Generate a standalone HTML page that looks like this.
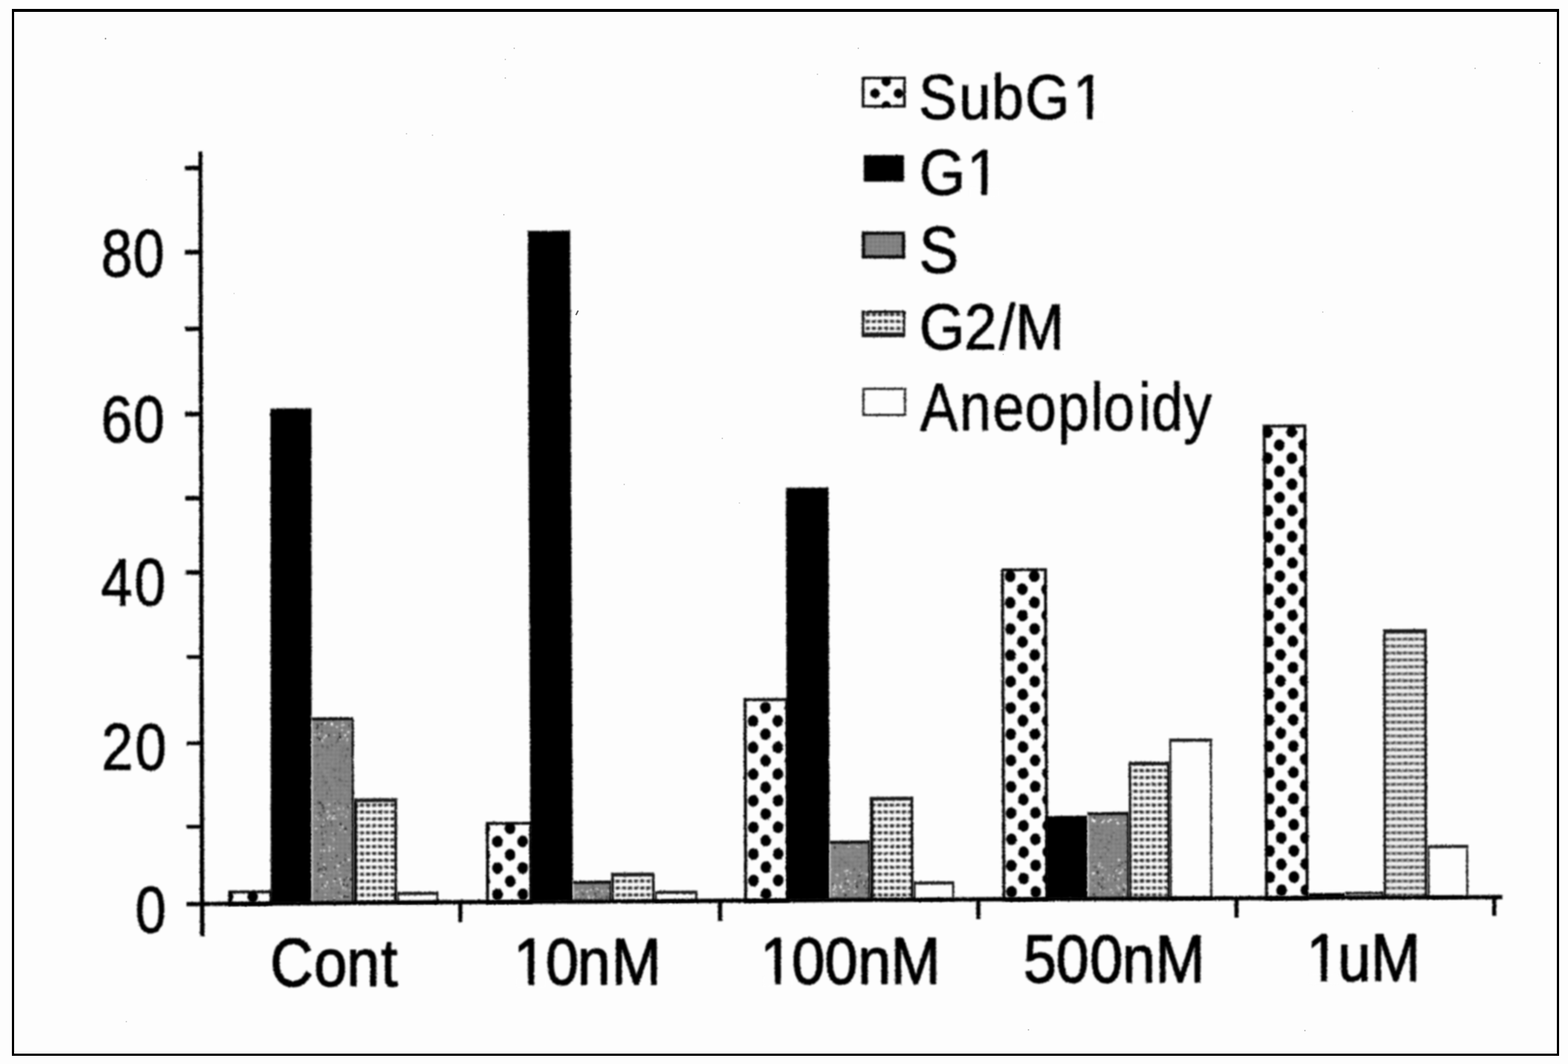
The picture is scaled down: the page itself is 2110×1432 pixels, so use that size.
<!DOCTYPE html>
<html lang="en"><head><meta charset="utf-8"><title>Cell cycle distribution</title>
<style>
html,body{margin:0;padding:0;background:#fdfdfd;}
body{width:2110px;height:1432px;overflow:hidden;font-family:"Liberation Sans",sans-serif;}
svg{display:block;}
</style></head><body>
<svg width="2110" height="1432" viewBox="0 0 2110 1432">
<defs>
<filter id="soft" x="-15%" y="-15%" width="130%" height="130%" color-interpolation-filters="sRGB">
  <feTurbulence type="fractalNoise" baseFrequency="0.4" numOctaves="2" seed="5" result="n"/>
  <feDisplacementMap in="SourceGraphic" in2="n" scale="2.8" xChannelSelector="R" yChannelSelector="G" result="d"/>
  <feGaussianBlur in="d" stdDeviation="0.85"/>
</filter>
<pattern id="pG2" patternUnits="userSpaceOnUse" width="8.2" height="9.3">
  <rect x="0" y="0" width="8.2" height="9.3" fill="#fbfbfb"/>
  <rect x="0" y="3" width="8.2" height="3.4" fill="#d0d0d0"/>
  <rect x="0.8" y="2.6" width="5.0" height="4.3" fill="#2a2a2a"/>
</pattern>
<pattern id="pG2d" patternUnits="userSpaceOnUse" width="8" height="9.3">
  <rect x="0" y="0" width="8" height="9.3" fill="#f0f0f0"/>
  <rect x="0" y="2.6" width="8" height="4.2" fill="#9a9a9a"/>
  <rect x="1" y="3" width="4.6" height="3.4" fill="#444"/>
</pattern>
<pattern id="pS" patternUnits="userSpaceOnUse" width="6" height="6">
  <rect x="0" y="0" width="6" height="6" fill="#828282"/>
  <rect x="1" y="1" width="2" height="1.5" fill="#6a6a6a"/>
  <rect x="4" y="4" width="1.5" height="1.5" fill="#9a9a9a"/>
</pattern>
</defs>
<rect x="0" y="0" width="2110" height="1432" fill="#fdfdfd"/>

<path d="M16 12H2098V1421H16Z M19 16V1418H2095V16Z" fill="#000" fill-rule="evenodd"/>
<g filter="url(#soft)"><g transform="matrix(1 -0.0053 0.002 1 -2.4323 1.7792)">
<clipPath id="c1"><rect x="307.40" y="1198.50" width="59.10" height="16.94"/></clipPath>
<rect x="309.40" y="1200.30" width="55.10" height="16.94" fill="#fdfdfd" stroke="#0a0a0a" stroke-width="4"/>
<g clip-path="url(#c1)" fill="#000"><ellipse cx="307.0" cy="1207.0" rx="7.2" ry="7.9"/><ellipse cx="340.0" cy="1207.0" rx="7.2" ry="7.9"/></g>
</g></g>
<g filter="url(#soft)"><g transform="matrix(1 -0.0053 0.0006 1 -0.7294 2.0773)">
<rect x="364.40" y="549.60" width="55.10" height="665.44" fill="#000"/>
</g></g>
<g filter="url(#soft)"><g transform="matrix(1 -0.0053 0.0006 1 -0.7292 2.3731)">
<rect x="419.50" y="965.50" width="56.50" height="249.14" fill="url(#pS)"/>
<rect x="419.50" y="965.50" width="56.50" height="4" fill="#0a0a0a"/>
<rect x="419.80" y="969.50" width="1.6" height="245.14" fill="#c8c8c8"/>
<rect x="473.40" y="965.50" width="2.8" height="249.14" fill="#0a0a0a"/>
<rect x="444.4" y="1104.9" width="2.2" height="3.4" fill="#505050"/><rect x="464.0" y="1016.1" width="3.0" height="3.4" fill="#5a5a5a"/><rect x="461.0" y="993.1" width="1.6" height="1.6" fill="#f4f4f4"/><rect x="448.6" y="1184.3" width="3.0" height="2.4" fill="#e0e0e0"/><rect x="469.3" y="1127.5" width="3.0" height="1.6" fill="#9a9a9a"/><rect x="452.7" y="1170.2" width="1.6" height="1.6" fill="#e0e0e0"/><rect x="431.7" y="1028.6" width="2.2" height="2.4" fill="#8e8e8e"/><rect x="443.9" y="1172.8" width="1.6" height="3.4" fill="#9a9a9a"/><rect x="436.8" y="971.6" width="2.2" height="3.4" fill="#e8e8e8"/><rect x="436.0" y="1210.1" width="3.0" height="2.4" fill="#e0e0e0"/><rect x="437.8" y="1025.7" width="1.6" height="1.6" fill="#8e8e8e"/><rect x="449.8" y="996.4" width="2.2" height="2.4" fill="#8e8e8e"/><rect x="425.7" y="974.6" width="1.6" height="1.6" fill="#222"/><rect x="432.7" y="1189.1" width="2.2" height="3.4" fill="#505050"/><rect x="441.8" y="988.0" width="1.6" height="3.4" fill="#222"/><rect x="435.6" y="991.4" width="1.6" height="2.4" fill="#f4f4f4"/><rect x="459.3" y="998.8" width="3.0" height="1.6" fill="#767676"/><rect x="423.0" y="1082.1" width="1.6" height="3.4" fill="#505050"/><rect x="449.6" y="1077.9" width="3.0" height="1.6" fill="#c8c8c8"/><rect x="442.8" y="1062.7" width="2.2" height="1.6" fill="#5a5a5a"/><rect x="422.5" y="1178.1" width="2.2" height="1.6" fill="#9a9a9a"/><rect x="432.7" y="1065.2" width="1.6" height="1.6" fill="#8e8e8e"/><rect x="432.8" y="1032.5" width="2.2" height="2.4" fill="#8e8e8e"/><rect x="426.1" y="992.1" width="3.0" height="1.6" fill="#222"/><rect x="423.3" y="1059.0" width="1.6" height="3.4" fill="#5a5a5a"/><rect x="446.0" y="1108.5" width="1.6" height="3.4" fill="#505050"/><rect x="430.0" y="1188.6" width="1.6" height="3.4" fill="#9a9a9a"/><rect x="431.7" y="1148.1" width="1.6" height="3.4" fill="#9a9a9a"/><rect x="468.6" y="1182.3" width="1.6" height="2.4" fill="#9a9a9a"/><rect x="424.8" y="996.7" width="1.6" height="3.4" fill="#8e8e8e"/><rect x="456.7" y="1032.2" width="2.2" height="3.4" fill="#5a5a5a"/><rect x="431.0" y="1143.5" width="1.6" height="1.6" fill="#e0e0e0"/><rect x="445.7" y="1127.4" width="3.0" height="1.6" fill="#9a9a9a"/><rect x="436.1" y="1190.8" width="3.0" height="1.6" fill="#c8c8c8"/><rect x="425.9" y="1069.3" width="1.6" height="1.6" fill="#767676"/><rect x="431.0" y="1059.1" width="1.6" height="2.4" fill="#767676"/><rect x="429.2" y="1078.6" width="3.0" height="3.4" fill="#303030"/><rect x="456.0" y="1110.8" width="3.0" height="1.6" fill="#c8c8c8"/><rect x="467.3" y="1084.5" width="3.0" height="2.4" fill="#303030"/><rect x="469.2" y="975.6" width="1.6" height="2.4" fill="#222"/><rect x="425.8" y="1045.2" width="1.6" height="1.6" fill="#767676"/><rect x="444.5" y="1058.8" width="3.0" height="3.4" fill="#8e8e8e"/><rect x="456.6" y="1161.0" width="2.2" height="1.6" fill="#303030"/><rect x="455.7" y="1186.8" width="1.6" height="2.4" fill="#505050"/><rect x="450.3" y="1120.6" width="2.2" height="3.4" fill="#505050"/><rect x="423.1" y="987.8" width="3.0" height="1.6" fill="#e8e8e8"/><rect x="470.7" y="1181.8" width="2.2" height="3.4" fill="#303030"/><rect x="456.2" y="1080.4" width="3.0" height="1.6" fill="#505050"/><rect x="447.7" y="1094.1" width="3.0" height="1.6" fill="#303030"/><rect x="445.8" y="1025.8" width="2.2" height="3.4" fill="#8e8e8e"/><rect x="454.5" y="1087.3" width="2.2" height="2.4" fill="#e0e0e0"/><rect x="429.4" y="1117.4" width="1.6" height="2.4" fill="#9a9a9a"/><rect x="454.5" y="1076.6" width="2.2" height="2.4" fill="#767676"/><rect x="454.8" y="1018.2" width="1.6" height="1.6" fill="#5a5a5a"/><rect x="441.1" y="1110.5" width="1.6" height="1.6" fill="#303030"/><rect x="429.0" y="1054.7" width="3.0" height="1.6" fill="#8e8e8e"/><rect x="468.6" y="1037.0" width="1.6" height="2.4" fill="#767676"/><rect x="445.4" y="1192.8" width="2.2" height="3.4" fill="#505050"/><rect x="447.7" y="1131.9" width="2.2" height="2.4" fill="#9a9a9a"/><rect x="426.1" y="978.1" width="1.6" height="3.4" fill="#222"/><rect x="456.9" y="1107.5" width="3.0" height="3.4" fill="#303030"/><rect x="423.4" y="1003.1" width="1.6" height="1.6" fill="#5a5a5a"/><rect x="459.8" y="1034.5" width="1.6" height="3.4" fill="#767676"/><rect x="428.1" y="996.7" width="1.6" height="3.4" fill="#8e8e8e"/><rect x="432.1" y="1168.3" width="1.6" height="3.4" fill="#303030"/><rect x="423.0" y="1083.9" width="1.6" height="1.6" fill="#e0e0e0"/><rect x="435.7" y="1053.5" width="2.2" height="3.4" fill="#767676"/><rect x="466.5" y="991.4" width="2.2" height="1.6" fill="#222"/><rect x="444.3" y="1017.8" width="2.2" height="3.4" fill="#8e8e8e"/><rect x="450.1" y="1181.7" width="2.2" height="2.4" fill="#303030"/><rect x="454.1" y="1019.7" width="1.6" height="1.6" fill="#8e8e8e"/><rect x="466.1" y="1206.0" width="3.0" height="2.4" fill="#303030"/><rect x="435.2" y="1143.0" width="2.2" height="3.4" fill="#e0e0e0"/><rect x="426.5" y="1076.4" width="2.2" height="2.4" fill="#5a5a5a"/><rect x="467.1" y="1022.9" width="2.2" height="1.6" fill="#8e8e8e"/><rect x="430.9" y="1050.9" width="2.2" height="1.6" fill="#767676"/><rect x="471.0" y="1186.8" width="3.0" height="3.4" fill="#9a9a9a"/><rect x="443.8" y="1181.8" width="3.0" height="1.6" fill="#9a9a9a"/><rect x="459.3" y="1076.0" width="3.0" height="3.4" fill="#8e8e8e"/><rect x="453.5" y="1096.0" width="2.2" height="2.4" fill="#9a9a9a"/><rect x="455.1" y="1199.8" width="1.6" height="2.4" fill="#9a9a9a"/><rect x="463.8" y="1203.1" width="2.2" height="3.4" fill="#9a9a9a"/><rect x="446.6" y="1069.2" width="3.0" height="1.6" fill="#8e8e8e"/><rect x="451.9" y="977.2" width="3.0" height="2.4" fill="#e8e8e8"/><rect x="448.9" y="1208.1" width="2.2" height="1.6" fill="#e0e0e0"/><rect x="456.0" y="986.3" width="2.2" height="2.4" fill="#222"/><rect x="467.2" y="1162.7" width="2.2" height="1.6" fill="#505050"/><rect x="445.4" y="1001.0" width="2.2" height="3.4" fill="#5a5a5a"/><rect x="437.9" y="1016.5" width="2.2" height="1.6" fill="#8e8e8e"/><rect x="456.6" y="1205.2" width="1.6" height="1.6" fill="#e0e0e0"/><rect x="433.5" y="1135.5" width="3.0" height="2.4" fill="#303030"/><rect x="434.4" y="1090.3" width="3.0" height="3.4" fill="#505050"/><rect x="428.5" y="1093.1" width="3.0" height="1.6" fill="#303030"/><rect x="456.5" y="1181.5" width="2.2" height="3.4" fill="#e0e0e0"/><rect x="442.5" y="1097.6" width="3.0" height="1.6" fill="#c8c8c8"/><rect x="464.4" y="1098.7" width="3.0" height="1.6" fill="#c8c8c8"/><rect x="463.8" y="1117.4" width="1.6" height="3.4" fill="#c8c8c8"/><rect x="453.0" y="1054.0" width="2.2" height="3.4" fill="#767676"/><rect x="437.8" y="1192.1" width="1.6" height="1.6" fill="#c8c8c8"/><rect x="429.0" y="1028.0" width="2.2" height="2.4" fill="#8e8e8e"/><rect x="427.2" y="1170.3" width="3.0" height="3.4" fill="#505050"/><rect x="428.6" y="1067.2" width="1.6" height="1.6" fill="#8e8e8e"/><rect x="450.1" y="1056.4" width="1.6" height="3.4" fill="#8e8e8e"/><rect x="447.0" y="1152.6" width="3.0" height="1.6" fill="#9a9a9a"/><rect x="461.4" y="1086.3" width="1.6" height="3.4" fill="#e0e0e0"/><rect x="452.2" y="1187.8" width="1.6" height="1.6" fill="#505050"/><rect x="431.5" y="1019.5" width="2.2" height="3.4" fill="#767676"/><rect x="427.1" y="985.4" width="2.2" height="1.6" fill="#222"/><rect x="459.6" y="1049.0" width="2.2" height="3.4" fill="#5a5a5a"/><rect x="439.7" y="1020.9" width="1.6" height="3.4" fill="#8e8e8e"/><rect x="456.5" y="1173.2" width="2.2" height="2.4" fill="#c8c8c8"/><rect x="439.9" y="1059.4" width="3.0" height="1.6" fill="#767676"/><rect x="427.1" y="1160.8" width="1.6" height="3.4" fill="#303030"/><rect x="465.0" y="1188.7" width="3.0" height="3.4" fill="#505050"/><rect x="431.8" y="1110.9" width="2.2" height="2.4" fill="#303030"/><rect x="466.7" y="1149.3" width="2.2" height="1.6" fill="#c8c8c8"/><rect x="466.0" y="1181.8" width="2.2" height="1.6" fill="#303030"/><rect x="442.2" y="1144.0" width="2.2" height="2.4" fill="#e0e0e0"/><rect x="445.2" y="973.0" width="3.0" height="3.4" fill="#f4f4f4"/><rect x="424.9" y="1036.1" width="2.2" height="1.6" fill="#8e8e8e"/><rect x="454.5" y="1107.3" width="1.6" height="2.4" fill="#9a9a9a"/><rect x="447.5" y="1090.0" width="3.0" height="1.6" fill="#c8c8c8"/><rect x="459.4" y="1205.9" width="1.6" height="3.4" fill="#e0e0e0"/><rect x="427.7" y="1027.4" width="2.2" height="3.4" fill="#5a5a5a"/><rect x="424.9" y="1017.4" width="1.6" height="1.6" fill="#5a5a5a"/><rect x="435.0" y="1036.7" width="3.0" height="3.4" fill="#8e8e8e"/><rect x="447.1" y="1202.7" width="1.6" height="3.4" fill="#9a9a9a"/><rect x="444.1" y="1125.3" width="3.0" height="3.4" fill="#9a9a9a"/><rect x="459.3" y="981.3" width="2.2" height="2.4" fill="#e8e8e8"/><rect x="469.5" y="1176.0" width="3.0" height="3.4" fill="#9a9a9a"/><rect x="425.3" y="1197.5" width="2.2" height="3.4" fill="#505050"/><rect x="441.8" y="1045.5" width="2.2" height="3.4" fill="#8e8e8e"/><rect x="435.6" y="1193.7" width="1.6" height="1.6" fill="#303030"/><rect x="460.0" y="1111.2" width="2.2" height="3.4" fill="#c8c8c8"/><rect x="441.4" y="1186.0" width="1.6" height="3.4" fill="#505050"/><rect x="470.5" y="1197.3" width="1.6" height="2.4" fill="#e0e0e0"/><rect x="457.4" y="1030.8" width="1.6" height="3.4" fill="#767676"/><rect x="427.3" y="1165.1" width="1.6" height="1.6" fill="#505050"/><rect x="451.8" y="998.1" width="2.2" height="1.6" fill="#5a5a5a"/><rect x="432.4" y="983.0" width="1.6" height="1.6" fill="#222"/><rect x="440.1" y="1004.1" width="2.2" height="3.4" fill="#5a5a5a"/><rect x="435.2" y="1110.3" width="2.2" height="3.4" fill="#505050"/><rect x="448.2" y="1210.1" width="3.0" height="1.6" fill="#303030"/><rect x="434.1" y="997.8" width="3.0" height="3.4" fill="#8e8e8e"/><rect x="463.6" y="1036.5" width="3.0" height="2.4" fill="#767676"/><rect x="459.0" y="1016.1" width="3.0" height="3.4" fill="#767676"/><rect x="466.9" y="1181.5" width="3.0" height="1.6" fill="#e0e0e0"/><rect x="423.0" y="1032.8" width="3.0" height="1.6" fill="#8e8e8e"/><rect x="427.5" y="1100.6" width="1.6" height="3.4" fill="#e0e0e0"/><rect x="430.3" y="1026.9" width="2.2" height="2.4" fill="#8e8e8e"/><rect x="439.7" y="1051.7" width="3.0" height="1.6" fill="#5a5a5a"/><rect x="463.2" y="988.4" width="2.2" height="3.4" fill="#e8e8e8"/><rect x="463.1" y="1155.2" width="2.2" height="3.4" fill="#505050"/><rect x="435.0" y="1165.0" width="1.6" height="3.4" fill="#303030"/><rect x="463.1" y="1113.8" width="3.0" height="3.4" fill="#303030"/><rect x="462.6" y="1014.7" width="3.0" height="1.6" fill="#8e8e8e"/><rect x="444.9" y="1048.3" width="2.2" height="3.4" fill="#8e8e8e"/><rect x="450.0" y="1166.3" width="2.2" height="1.6" fill="#505050"/><rect x="426.2" y="1021.7" width="3.0" height="2.4" fill="#8e8e8e"/><rect x="446.5" y="1154.0" width="2.2" height="1.6" fill="#303030"/><rect x="433.1" y="1128.3" width="2.2" height="1.6" fill="#303030"/><rect x="438.1" y="1076.4" width="2.2" height="3.4" fill="#8e8e8e"/><rect x="461.4" y="1043.7" width="1.6" height="2.4" fill="#8e8e8e"/><rect x="469.4" y="1145.7" width="1.6" height="1.6" fill="#9a9a9a"/><rect x="440.0" y="1058.3" width="3.0" height="2.4" fill="#8e8e8e"/><rect x="450.9" y="1161.7" width="2.2" height="2.4" fill="#9a9a9a"/><rect x="448.7" y="1171.3" width="1.6" height="1.6" fill="#9a9a9a"/><rect x="426.9" y="1079.6" width="1.6" height="1.6" fill="#303030"/><rect x="447.5" y="1101.2" width="2.2" height="1.6" fill="#9a9a9a"/><rect x="454.1" y="1163.6" width="3.0" height="3.4" fill="#e0e0e0"/><rect x="437.3" y="1101.5" width="1.6" height="2.4" fill="#303030"/><rect x="458.2" y="1186.4" width="1.6" height="3.4" fill="#e0e0e0"/><rect x="454.2" y="993.9" width="2.2" height="1.6" fill="#222"/><rect x="457.0" y="1087.9" width="2.2" height="2.4" fill="#9a9a9a"/><rect x="441.6" y="1051.6" width="3.0" height="1.6" fill="#8e8e8e"/><rect x="446.4" y="1099.5" width="3.0" height="3.4" fill="#e0e0e0"/><rect x="466.9" y="1069.1" width="1.6" height="2.4" fill="#8e8e8e"/><rect x="462.9" y="1183.9" width="3.0" height="1.6" fill="#9a9a9a"/><rect x="447.9" y="1141.0" width="2.2" height="2.4" fill="#e0e0e0"/><rect x="466.9" y="1029.5" width="3.0" height="2.4" fill="#767676"/><rect x="455.7" y="1047.6" width="2.2" height="3.4" fill="#5a5a5a"/><rect x="436.7" y="1203.4" width="2.2" height="2.4" fill="#e0e0e0"/><rect x="457.9" y="1043.4" width="1.6" height="1.6" fill="#767676"/><rect x="459.0" y="974.6" width="1.6" height="2.4" fill="#f4f4f4"/><rect x="427.8" y="1014.8" width="3.0" height="1.6" fill="#767676"/><rect x="451.6" y="1083.8" width="1.6" height="2.4" fill="#9a9a9a"/><rect x="431.5" y="1038.0" width="2.2" height="3.4" fill="#767676"/><rect x="449.1" y="1166.7" width="2.2" height="2.4" fill="#505050"/><rect x="465.5" y="1190.0" width="3.0" height="3.4" fill="#303030"/><rect x="459.9" y="992.7" width="2.2" height="1.6" fill="#e8e8e8"/><rect x="433.0" y="1002.7" width="3.0" height="3.4" fill="#5a5a5a"/><rect x="460.0" y="1159.7" width="3.0" height="1.6" fill="#e0e0e0"/><rect x="465.8" y="1180.4" width="2.2" height="1.6" fill="#303030"/><rect x="457.1" y="1116.0" width="2.2" height="1.6" fill="#c8c8c8"/><rect x="459.9" y="1005.3" width="3.0" height="3.4" fill="#767676"/><rect x="470.7" y="1034.5" width="1.6" height="3.4" fill="#8e8e8e"/><rect x="459.9" y="970.8" width="1.6" height="1.6" fill="#e8e8e8"/><rect x="439.6" y="1118.2" width="1.6" height="2.4" fill="#9a9a9a"/><rect x="456.1" y="990.4" width="3.0" height="3.4" fill="#222"/><rect x="464.1" y="1043.4" width="2.2" height="1.6" fill="#767676"/><rect x="467.0" y="992.3" width="1.6" height="1.6" fill="#f4f4f4"/><rect x="448.9" y="1096.7" width="2.2" height="2.4" fill="#c8c8c8"/><rect x="437.6" y="988.8" width="2.2" height="3.4" fill="#f4f4f4"/><rect x="457.2" y="1056.9" width="1.6" height="3.4" fill="#767676"/><rect x="441.6" y="1081.4" width="3.0" height="2.4" fill="#e0e0e0"/><rect x="423.1" y="1061.1" width="1.6" height="2.4" fill="#5a5a5a"/><rect x="449.9" y="1080.5" width="3.0" height="1.6" fill="#e0e0e0"/><rect x="466.2" y="1007.0" width="3.0" height="3.4" fill="#5a5a5a"/><rect x="437.0" y="1051.5" width="3.0" height="3.4" fill="#5a5a5a"/><rect x="426.7" y="1015.8" width="3.0" height="1.6" fill="#5a5a5a"/><rect x="438.5" y="1197.4" width="2.2" height="3.4" fill="#9a9a9a"/><rect x="453.6" y="1077.8" width="1.6" height="1.6" fill="#505050"/><rect x="429.3" y="993.2" width="3.0" height="3.4" fill="#222"/><rect x="431.2" y="1016.9" width="2.2" height="3.4" fill="#8e8e8e"/><rect x="456.6" y="994.6" width="1.6" height="1.6" fill="#e8e8e8"/><rect x="443.5" y="1155.7" width="2.2" height="3.4" fill="#303030"/><rect x="429.2" y="1019.8" width="3.0" height="2.4" fill="#767676"/><rect x="445.9" y="1191.7" width="1.6" height="3.4" fill="#9a9a9a"/><rect x="441.9" y="1138.6" width="3.0" height="3.4" fill="#c8c8c8"/><rect x="448.2" y="1033.1" width="2.2" height="2.4" fill="#767676"/><rect x="454.1" y="996.0" width="1.6" height="3.4" fill="#5a5a5a"/><rect x="438.6" y="1041.0" width="3.0" height="3.4" fill="#8e8e8e"/><rect x="430.2" y="1154.6" width="3.0" height="1.6" fill="#303030"/><rect x="439.6" y="1090.7" width="3.0" height="3.4" fill="#c8c8c8"/><rect x="432.1" y="1194.7" width="3.0" height="1.6" fill="#c8c8c8"/><rect x="452.9" y="1018.0" width="1.6" height="1.6" fill="#8e8e8e"/><rect x="445.7" y="1070.8" width="2.2" height="1.6" fill="#8e8e8e"/><rect x="467.6" y="1057.2" width="1.6" height="2.4" fill="#5a5a5a"/><rect x="469.7" y="1003.1" width="3.0" height="2.4" fill="#8e8e8e"/><rect x="430.7" y="1149.6" width="3.0" height="1.6" fill="#303030"/><rect x="428.4" y="1168.5" width="3.0" height="2.4" fill="#303030"/><rect x="434.2" y="1108.2" width="1.6" height="3.4" fill="#c8c8c8"/><rect x="449.1" y="988.8" width="2.2" height="1.6" fill="#e8e8e8"/><rect x="460.5" y="1193.8" width="2.2" height="3.4" fill="#c8c8c8"/><rect x="463.6" y="1188.2" width="3.0" height="3.4" fill="#9a9a9a"/><rect x="461.5" y="974.4" width="2.2" height="2.4" fill="#e8e8e8"/><rect x="424.1" y="1097.3" width="3.0" height="2.4" fill="#e0e0e0"/><rect x="430.9" y="1095.3" width="1.6" height="3.4" fill="#303030"/><rect x="467.7" y="983.3" width="3.0" height="3.4" fill="#e8e8e8"/><rect x="460.7" y="1067.3" width="3.0" height="1.6" fill="#5a5a5a"/><rect x="445.3" y="1069.3" width="2.2" height="2.4" fill="#5a5a5a"/><rect x="465.6" y="1081.8" width="2.2" height="1.6" fill="#505050"/><rect x="449.9" y="1187.9" width="2.2" height="3.4" fill="#9a9a9a"/><rect x="447.8" y="1071.4" width="2.2" height="1.6" fill="#8e8e8e"/><rect x="436.9" y="1118.5" width="3.0" height="2.4" fill="#505050"/><rect x="451.5" y="1151.1" width="3.0" height="1.6" fill="#303030"/><rect x="434.4" y="1173.3" width="3.0" height="2.4" fill="#c8c8c8"/><rect x="469.7" y="1084.7" width="3.0" height="1.6" fill="#e0e0e0"/><rect x="448.9" y="1128.2" width="1.6" height="3.4" fill="#c8c8c8"/><rect x="469.4" y="1130.4" width="2.2" height="3.4" fill="#9a9a9a"/><rect x="461.6" y="1023.8" width="3.0" height="1.6" fill="#5a5a5a"/><rect x="466.3" y="994.2" width="1.6" height="3.4" fill="#e8e8e8"/><rect x="450.4" y="1079.3" width="1.6" height="3.4" fill="#303030"/><rect x="437.0" y="1048.5" width="2.2" height="2.4" fill="#8e8e8e"/><rect x="462.0" y="1065.9" width="3.0" height="3.4" fill="#8e8e8e"/><rect x="433.7" y="1044.0" width="2.2" height="2.4" fill="#5a5a5a"/><rect x="438.2" y="1004.9" width="1.6" height="1.6" fill="#5a5a5a"/><rect x="436.8" y="1192.1" width="1.6" height="2.4" fill="#e0e0e0"/><rect x="463.1" y="1055.5" width="1.6" height="1.6" fill="#5a5a5a"/><rect x="453.3" y="1138.1" width="1.6" height="3.4" fill="#9a9a9a"/><rect x="453.2" y="1016.5" width="3.0" height="1.6" fill="#8e8e8e"/><rect x="437.3" y="1166.9" width="2.2" height="3.4" fill="#303030"/><rect x="465.1" y="1050.9" width="2.2" height="1.6" fill="#5a5a5a"/><rect x="430.7" y="1177.4" width="3.0" height="3.4" fill="#e0e0e0"/><rect x="432.0" y="1014.0" width="3.0" height="3.4" fill="#767676"/><rect x="436.8" y="1036.1" width="3.0" height="3.4" fill="#8e8e8e"/><rect x="433.6" y="1042.8" width="3.0" height="1.6" fill="#767676"/><rect x="435.9" y="1124.2" width="2.2" height="1.6" fill="#e0e0e0"/><rect x="443.9" y="1097.4" width="1.6" height="1.6" fill="#9a9a9a"/><rect x="451.6" y="1038.8" width="2.2" height="3.4" fill="#8e8e8e"/><rect x="426.7" y="1039.0" width="1.6" height="1.6" fill="#767676"/><rect x="436.0" y="1102.1" width="1.6" height="1.6" fill="#c8c8c8"/><rect x="452.7" y="1190.6" width="2.2" height="1.6" fill="#9a9a9a"/><rect x="467.6" y="1090.5" width="1.6" height="3.4" fill="#c8c8c8"/><rect x="460.2" y="1189.0" width="3.0" height="2.4" fill="#303030"/><rect x="460.5" y="1094.6" width="3.0" height="3.4" fill="#9a9a9a"/><rect x="470.2" y="1149.3" width="1.6" height="3.4" fill="#9a9a9a"/><rect x="460.3" y="1010.2" width="1.6" height="3.4" fill="#5a5a5a"/><rect x="443.9" y="1156.1" width="2.2" height="2.4" fill="#c8c8c8"/><rect x="448.9" y="1175.2" width="2.2" height="2.4" fill="#9a9a9a"/><rect x="424.2" y="1113.8" width="3.0" height="2.4" fill="#e0e0e0"/><rect x="464.8" y="1013.7" width="3.0" height="1.6" fill="#767676"/><rect x="452.0" y="1164.1" width="2.2" height="3.4" fill="#9a9a9a"/><rect x="435.3" y="1162.3" width="1.6" height="1.6" fill="#e0e0e0"/><rect x="450.1" y="1101.0" width="3.0" height="1.6" fill="#c8c8c8"/><rect x="425.1" y="1072.6" width="3.0" height="3.4" fill="#8e8e8e"/><rect x="448.0" y="1034.1" width="1.6" height="3.4" fill="#5a5a5a"/><rect x="462.3" y="1011.7" width="1.6" height="1.6" fill="#8e8e8e"/><rect x="446.6" y="1128.8" width="2.2" height="1.6" fill="#9a9a9a"/><rect x="437.8" y="1082.6" width="3.0" height="1.6" fill="#c8c8c8"/><rect x="428.7" y="1151.9" width="1.6" height="1.6" fill="#9a9a9a"/><rect x="458.6" y="1095.8" width="1.6" height="1.6" fill="#e0e0e0"/><rect x="442.4" y="1096.7" width="2.2" height="3.4" fill="#e0e0e0"/><rect x="437.0" y="1072.4" width="1.6" height="3.4" fill="#8e8e8e"/><rect x="470.8" y="1153.8" width="1.6" height="2.4" fill="#9a9a9a"/><rect x="434.8" y="1103.0" width="2.2" height="2.4" fill="#c8c8c8"/><rect x="426.7" y="1025.1" width="2.2" height="3.4" fill="#8e8e8e"/><rect x="433.1" y="1009.0" width="3.0" height="2.4" fill="#8e8e8e"/><rect x="450.0" y="1189.5" width="1.6" height="2.4" fill="#9a9a9a"/><rect x="464.2" y="1195.1" width="2.2" height="2.4" fill="#c8c8c8"/><rect x="460.4" y="1022.2" width="1.6" height="1.6" fill="#8e8e8e"/><rect x="461.0" y="1163.6" width="1.6" height="2.4" fill="#505050"/><rect x="432.9" y="1082.8" width="2.2" height="2.4" fill="#303030"/><rect x="446.3" y="1121.0" width="2.2" height="1.6" fill="#c8c8c8"/><rect x="448.7" y="1071.2" width="3.0" height="2.4" fill="#8e8e8e"/><rect x="440.1" y="1036.4" width="3.0" height="1.6" fill="#8e8e8e"/><rect x="458.5" y="1093.5" width="3.0" height="3.4" fill="#9a9a9a"/><rect x="433.1" y="995.3" width="1.6" height="3.4" fill="#e8e8e8"/><rect x="467.9" y="1056.9" width="3.0" height="1.6" fill="#767676"/><rect x="423.5" y="1047.8" width="2.2" height="1.6" fill="#5a5a5a"/><rect x="463.9" y="1062.1" width="3.0" height="3.4" fill="#8e8e8e"/><rect x="425.2" y="1065.1" width="2.2" height="1.6" fill="#767676"/><rect x="431.6" y="1093.9" width="1.6" height="1.6" fill="#c8c8c8"/><rect x="437.6" y="1072.3" width="3.0" height="3.4" fill="#767676"/><rect x="449.1" y="1045.9" width="3.0" height="2.4" fill="#5a5a5a"/><rect x="429.6" y="1019.7" width="3.0" height="3.4" fill="#8e8e8e"/><rect x="444.3" y="1003.3" width="1.6" height="1.6" fill="#8e8e8e"/><rect x="436.7" y="1053.3" width="1.6" height="1.6" fill="#767676"/><rect x="463.6" y="1149.9" width="3.0" height="1.6" fill="#505050"/><rect x="461.7" y="1204.8" width="3.0" height="3.4" fill="#303030"/><rect x="425.7" y="1175.3" width="3.0" height="2.4" fill="#9a9a9a"/><rect x="454.8" y="1199.9" width="1.6" height="3.4" fill="#303030"/><rect x="435.1" y="1162.5" width="2.2" height="2.4" fill="#e0e0e0"/><rect x="425.4" y="1062.6" width="2.2" height="2.4" fill="#8e8e8e"/><rect x="456.6" y="1023.7" width="1.6" height="2.4" fill="#5a5a5a"/><rect x="459.8" y="1054.7" width="3.0" height="1.6" fill="#767676"/><rect x="458.5" y="1188.4" width="2.2" height="3.4" fill="#c8c8c8"/><rect x="435.0" y="1175.3" width="3.0" height="1.6" fill="#303030"/><rect x="466.3" y="999.4" width="2.2" height="2.4" fill="#8e8e8e"/><rect x="425.1" y="1089.5" width="2.2" height="2.4" fill="#9a9a9a"/><rect x="457.4" y="1183.3" width="1.6" height="1.6" fill="#e0e0e0"/><rect x="439.3" y="1184.6" width="2.2" height="2.4" fill="#9a9a9a"/><rect x="462.0" y="1183.5" width="2.2" height="3.4" fill="#505050"/><rect x="439.1" y="1186.1" width="3.0" height="3.4" fill="#e0e0e0"/><rect x="468.2" y="1155.8" width="3.0" height="3.4" fill="#e0e0e0"/><rect x="442.4" y="1070.3" width="1.6" height="2.4" fill="#8e8e8e"/><rect x="465.2" y="1062.2" width="1.6" height="1.6" fill="#5a5a5a"/><rect x="455.6" y="1036.0" width="2.2" height="2.4" fill="#5a5a5a"/><rect x="469.9" y="1006.5" width="2.2" height="1.6" fill="#767676"/><rect x="435.0" y="1023.3" width="3.0" height="2.4" fill="#8e8e8e"/><rect x="422.7" y="1101.9" width="1.6" height="3.4" fill="#9a9a9a"/><rect x="462.4" y="1182.8" width="2.2" height="2.4" fill="#303030"/><rect x="427.5" y="975.2" width="1.6" height="3.4" fill="#222"/><rect x="441.7" y="1008.1" width="1.6" height="1.6" fill="#767676"/><rect x="438.7" y="1136.0" width="2.2" height="2.4" fill="#9a9a9a"/><rect x="442.6" y="1058.6" width="1.6" height="3.4" fill="#5a5a5a"/><rect x="434.6" y="1048.5" width="3.0" height="3.4" fill="#767676"/><rect x="428.6" y="985.7" width="1.6" height="3.4" fill="#e8e8e8"/><rect x="437.5" y="1174.4" width="3.0" height="2.4" fill="#9a9a9a"/><rect x="424.5" y="1119.8" width="2.2" height="1.6" fill="#505050"/><rect x="439.2" y="1065.9" width="2.2" height="3.4" fill="#5a5a5a"/><rect x="453.3" y="1058.8" width="1.6" height="2.4" fill="#8e8e8e"/><rect x="464.0" y="1019.7" width="3.0" height="2.4" fill="#767676"/><rect x="453.6" y="1000.7" width="1.6" height="1.6" fill="#8e8e8e"/><rect x="432.2" y="1119.7" width="1.6" height="3.4" fill="#303030"/><rect x="431.5" y="973.8" width="3.0" height="1.6" fill="#222"/><rect x="435.5" y="1035.6" width="3.0" height="3.4" fill="#8e8e8e"/><rect x="441.7" y="1194.6" width="1.6" height="1.6" fill="#c8c8c8"/><rect x="457.1" y="998.9" width="1.6" height="2.4" fill="#8e8e8e"/><rect x="439.8" y="1099.8" width="2.2" height="2.4" fill="#e0e0e0"/><rect x="466.4" y="1170.5" width="1.6" height="2.4" fill="#505050"/><rect x="425.8" y="1075.9" width="1.6" height="2.4" fill="#8e8e8e"/><rect x="457.5" y="1068.5" width="3.0" height="2.4" fill="#767676"/><rect x="455.2" y="1022.5" width="1.6" height="2.4" fill="#8e8e8e"/><rect x="431.0" y="996.2" width="2.2" height="2.4" fill="#8e8e8e"/><rect x="428.3" y="1048.2" width="2.2" height="3.4" fill="#8e8e8e"/><rect x="450.1" y="1036.2" width="2.2" height="2.4" fill="#5a5a5a"/><rect x="433.5" y="1086.3" width="3.0" height="2.4" fill="#303030"/><rect x="449.6" y="1006.9" width="2.2" height="3.4" fill="#8e8e8e"/><rect x="426.3" y="1014.3" width="1.6" height="1.6" fill="#5a5a5a"/>
</g></g>
<g filter="url(#soft)"><g transform="matrix(1 -0.0053 0.0006 1 -0.7290 2.6773)">
<rect x="476.00" y="1074.60" width="58.30" height="139.63" fill="url(#pG2)"/>
<rect x="476.00" y="1074.60" width="4.6" height="139.63" fill="#0a0a0a"/>
<rect x="530.90" y="1074.60" width="3.4" height="139.63" fill="#0a0a0a"/>
<rect x="476.00" y="1074.60" width="58.30" height="5.0" fill="#1a1a1a"/>
</g></g>
<g filter="url(#soft)"><g transform="matrix(1 -0.0053 0.002 1 -2.4290 2.9794)">
<rect x="535.70" y="1201.80" width="52.90" height="13.42" fill="#fdfdfd" stroke="#161616" stroke-width="2.8"/>
<rect x="534.30" y="1200.40" width="55.70" height="4.2" fill="#1c1c1c"/>
</g></g>
<g filter="url(#soft)"><g transform="matrix(1 -0.0053 0.004 1 -4.8553 3.6257)">
<clipPath id="c2"><rect x="654.20" y="1106.30" width="62.30" height="106.82"/></clipPath>
<rect x="656.20" y="1108.10" width="58.30" height="106.82" fill="#fdfdfd" stroke="#0a0a0a" stroke-width="4"/>
<g clip-path="url(#c2)" fill="#000"><ellipse cx="652.7" cy="1114.9" rx="7.2" ry="7.9"/><ellipse cx="652.7" cy="1150.5" rx="7.2" ry="7.9"/><ellipse cx="652.7" cy="1186.1" rx="7.2" ry="7.9"/><ellipse cx="686.7" cy="1114.9" rx="7.2" ry="7.9"/><ellipse cx="686.7" cy="1150.5" rx="7.2" ry="7.9"/><ellipse cx="686.7" cy="1186.1" rx="7.2" ry="7.9"/><ellipse cx="720.7" cy="1114.9" rx="7.2" ry="7.9"/><ellipse cx="720.7" cy="1150.5" rx="7.2" ry="7.9"/><ellipse cx="720.7" cy="1186.1" rx="7.2" ry="7.9"/><ellipse cx="669.6" cy="1132.6" rx="7.2" ry="7.9"/><ellipse cx="669.6" cy="1168.2" rx="7.2" ry="7.9"/><ellipse cx="669.6" cy="1203.8" rx="7.2" ry="7.9"/><ellipse cx="703.6" cy="1132.6" rx="7.2" ry="7.9"/><ellipse cx="703.6" cy="1168.2" rx="7.2" ry="7.9"/><ellipse cx="703.6" cy="1203.8" rx="7.2" ry="7.9"/></g>
</g></g>
<g filter="url(#soft)"><g transform="matrix(1 -0.0053 0.0042 1 -5.0969 3.9352)">
<rect x="714.00" y="310.70" width="57.00" height="902.16" fill="#000"/>
</g></g>
<g filter="url(#soft)"><g transform="matrix(1 -0.0053 0.004 1 -4.8533 4.2236)">
<rect x="771.00" y="1185.50" width="51.80" height="27.11" fill="url(#pS)"/>
<rect x="771.00" y="1185.50" width="51.80" height="4" fill="#0a0a0a"/>
<rect x="771.30" y="1189.50" width="1.6" height="23.11" fill="#c8c8c8"/>
<rect x="820.20" y="1185.50" width="2.8" height="27.11" fill="#0a0a0a"/>
<rect x="817.4" y="1197.9" width="2.2" height="2.4" fill="#e0e0e0"/><rect x="809.3" y="1197.7" width="1.6" height="3.4" fill="#e0e0e0"/><rect x="801.0" y="1205.5" width="2.2" height="1.6" fill="#303030"/><rect x="815.1" y="1206.2" width="3.0" height="3.4" fill="#505050"/><rect x="776.1" y="1206.0" width="3.0" height="1.6" fill="#c8c8c8"/><rect x="803.6" y="1195.4" width="3.0" height="2.4" fill="#e0e0e0"/><rect x="776.8" y="1198.9" width="1.6" height="2.4" fill="#c8c8c8"/><rect x="774.5" y="1200.1" width="3.0" height="2.4" fill="#c8c8c8"/><rect x="791.5" y="1205.0" width="2.2" height="2.4" fill="#e0e0e0"/><rect x="810.8" y="1197.9" width="1.6" height="1.6" fill="#9a9a9a"/><rect x="799.3" y="1194.6" width="3.0" height="2.4" fill="#505050"/><rect x="796.2" y="1195.5" width="3.0" height="3.4" fill="#303030"/><rect x="793.7" y="1196.2" width="3.0" height="2.4" fill="#e0e0e0"/><rect x="800.0" y="1195.3" width="3.0" height="1.6" fill="#c8c8c8"/><rect x="783.3" y="1204.0" width="2.2" height="3.4" fill="#9a9a9a"/><rect x="783.0" y="1196.8" width="1.6" height="2.4" fill="#c8c8c8"/><rect x="789.3" y="1198.3" width="2.2" height="3.4" fill="#e0e0e0"/><rect x="776.3" y="1192.2" width="1.6" height="1.6" fill="#9a9a9a"/><rect x="812.6" y="1196.3" width="1.6" height="3.4" fill="#9a9a9a"/><rect x="817.3" y="1198.3" width="2.2" height="2.4" fill="#c8c8c8"/><rect x="808.2" y="1206.6" width="1.6" height="3.4" fill="#303030"/><rect x="791.1" y="1207.2" width="2.2" height="3.4" fill="#c8c8c8"/><rect x="817.3" y="1193.2" width="3.0" height="1.6" fill="#505050"/><rect x="783.3" y="1201.7" width="3.0" height="3.4" fill="#505050"/><rect x="792.6" y="1208.1" width="1.6" height="3.4" fill="#e0e0e0"/><rect x="804.2" y="1198.7" width="2.2" height="2.4" fill="#505050"/><rect x="796.0" y="1197.3" width="3.0" height="1.6" fill="#9a9a9a"/><rect x="796.6" y="1191.1" width="2.2" height="2.4" fill="#505050"/><rect x="800.0" y="1201.3" width="1.6" height="3.4" fill="#303030"/><rect x="794.5" y="1208.5" width="2.2" height="1.6" fill="#9a9a9a"/><rect x="806.3" y="1208.4" width="1.6" height="1.6" fill="#505050"/><rect x="807.0" y="1206.8" width="1.6" height="1.6" fill="#e0e0e0"/><rect x="810.8" y="1202.3" width="1.6" height="1.6" fill="#c8c8c8"/><rect x="796.4" y="1208.5" width="1.6" height="1.6" fill="#e0e0e0"/><rect x="805.2" y="1195.0" width="2.2" height="1.6" fill="#303030"/><rect x="797.5" y="1206.2" width="2.2" height="2.4" fill="#c8c8c8"/>
</g></g>
<g filter="url(#soft)"><g transform="matrix(1 -0.0053 0.004 1 -4.8520 4.5151)">
<rect x="822.80" y="1174.70" width="58.20" height="37.59" fill="url(#pG2)"/>
<rect x="822.80" y="1174.70" width="3.2" height="37.59" fill="#0a0a0a"/>
<rect x="877.60" y="1174.70" width="3.4" height="37.59" fill="#0a0a0a"/>
<rect x="822.80" y="1174.70" width="58.20" height="5.0" fill="#1a1a1a"/>
</g></g>
<g filter="url(#soft)"><g transform="matrix(1 -0.0053 0.004 1 -4.8506 4.8211)">
<rect x="882.40" y="1200.20" width="54.50" height="13.14" fill="#fdfdfd" stroke="#161616" stroke-width="2.8"/>
<rect x="881.00" y="1198.80" width="57.30" height="4.2" fill="#1c1c1c"/>
</g></g>
<g filter="url(#soft)"><g transform="matrix(1 -0.0053 0.003 1 -3.6358 5.4616)">
<clipPath id="c3"><rect x="1001.50" y="939.90" width="60.50" height="271.32"/></clipPath>
<rect x="1003.50" y="941.70" width="56.50" height="271.32" fill="#fdfdfd" stroke="#0a0a0a" stroke-width="4"/>
<g clip-path="url(#c3)" fill="#000"><ellipse cx="997.6" cy="952.4" rx="7.2" ry="7.9"/><ellipse cx="997.6" cy="988.2" rx="7.2" ry="7.9"/><ellipse cx="997.6" cy="1024.0" rx="7.2" ry="7.9"/><ellipse cx="997.6" cy="1059.8" rx="7.2" ry="7.9"/><ellipse cx="997.6" cy="1095.6" rx="7.2" ry="7.9"/><ellipse cx="997.6" cy="1131.4" rx="7.2" ry="7.9"/><ellipse cx="997.6" cy="1167.2" rx="7.2" ry="7.9"/><ellipse cx="997.6" cy="1203.0" rx="7.2" ry="7.9"/><ellipse cx="1030.8" cy="952.4" rx="7.2" ry="7.9"/><ellipse cx="1030.8" cy="988.2" rx="7.2" ry="7.9"/><ellipse cx="1030.8" cy="1024.0" rx="7.2" ry="7.9"/><ellipse cx="1030.8" cy="1059.8" rx="7.2" ry="7.9"/><ellipse cx="1030.8" cy="1095.6" rx="7.2" ry="7.9"/><ellipse cx="1030.8" cy="1131.4" rx="7.2" ry="7.9"/><ellipse cx="1030.8" cy="1167.2" rx="7.2" ry="7.9"/><ellipse cx="1030.8" cy="1203.0" rx="7.2" ry="7.9"/><ellipse cx="1064.0" cy="952.4" rx="7.2" ry="7.9"/><ellipse cx="1064.0" cy="988.2" rx="7.2" ry="7.9"/><ellipse cx="1064.0" cy="1024.0" rx="7.2" ry="7.9"/><ellipse cx="1064.0" cy="1059.8" rx="7.2" ry="7.9"/><ellipse cx="1064.0" cy="1095.6" rx="7.2" ry="7.9"/><ellipse cx="1064.0" cy="1131.4" rx="7.2" ry="7.9"/><ellipse cx="1064.0" cy="1167.2" rx="7.2" ry="7.9"/><ellipse cx="1064.0" cy="1203.0" rx="7.2" ry="7.9"/><ellipse cx="1014.1" cy="934.5" rx="7.2" ry="7.9"/><ellipse cx="1014.1" cy="970.3" rx="7.2" ry="7.9"/><ellipse cx="1014.1" cy="1006.1" rx="7.2" ry="7.9"/><ellipse cx="1014.1" cy="1041.9" rx="7.2" ry="7.9"/><ellipse cx="1014.1" cy="1077.7" rx="7.2" ry="7.9"/><ellipse cx="1014.1" cy="1113.5" rx="7.2" ry="7.9"/><ellipse cx="1014.1" cy="1149.3" rx="7.2" ry="7.9"/><ellipse cx="1014.1" cy="1185.1" rx="7.2" ry="7.9"/><ellipse cx="1047.3" cy="934.5" rx="7.2" ry="7.9"/><ellipse cx="1047.3" cy="970.3" rx="7.2" ry="7.9"/><ellipse cx="1047.3" cy="1006.1" rx="7.2" ry="7.9"/><ellipse cx="1047.3" cy="1041.9" rx="7.2" ry="7.9"/><ellipse cx="1047.3" cy="1077.7" rx="7.2" ry="7.9"/><ellipse cx="1047.3" cy="1113.5" rx="7.2" ry="7.9"/><ellipse cx="1047.3" cy="1149.3" rx="7.2" ry="7.9"/><ellipse cx="1047.3" cy="1185.1" rx="7.2" ry="7.9"/></g>
</g></g>
<g filter="url(#soft)"><g transform="matrix(1 -0.0053 0.003 1 -3.6347 5.7659)">
<rect x="1059.20" y="656.40" width="57.40" height="554.47" fill="#000"/>
</g></g>
<g filter="url(#soft)"><g transform="matrix(1 -0.0053 0.003 1 -3.6337 6.0613)">
<rect x="1116.30" y="1131.50" width="54.70" height="79.04" fill="url(#pS)"/>
<rect x="1116.30" y="1131.50" width="54.70" height="4" fill="#0a0a0a"/>
<rect x="1116.60" y="1135.50" width="1.6" height="75.04" fill="#c8c8c8"/>
<rect x="1168.40" y="1131.50" width="2.8" height="79.04" fill="#0a0a0a"/>
<rect x="1164.2" y="1153.2" width="3.0" height="2.4" fill="#8e8e8e"/><rect x="1156.1" y="1170.9" width="1.6" height="2.4" fill="#c8c8c8"/><rect x="1159.2" y="1190.5" width="1.6" height="1.6" fill="#9a9a9a"/><rect x="1157.2" y="1149.0" width="1.6" height="2.4" fill="#8e8e8e"/><rect x="1163.9" y="1151.9" width="1.6" height="2.4" fill="#8e8e8e"/><rect x="1127.8" y="1163.7" width="2.2" height="1.6" fill="#5a5a5a"/><rect x="1123.4" y="1182.0" width="3.0" height="2.4" fill="#9a9a9a"/><rect x="1160.2" y="1187.5" width="3.0" height="3.4" fill="#c8c8c8"/><rect x="1165.7" y="1163.0" width="3.0" height="2.4" fill="#8e8e8e"/><rect x="1158.7" y="1202.8" width="1.6" height="3.4" fill="#9a9a9a"/><rect x="1129.1" y="1190.2" width="3.0" height="3.4" fill="#c8c8c8"/><rect x="1141.1" y="1145.5" width="2.2" height="2.4" fill="#8e8e8e"/><rect x="1147.8" y="1161.5" width="1.6" height="1.6" fill="#767676"/><rect x="1151.6" y="1188.1" width="2.2" height="2.4" fill="#303030"/><rect x="1128.6" y="1141.5" width="2.2" height="2.4" fill="#8e8e8e"/><rect x="1157.6" y="1165.1" width="1.6" height="3.4" fill="#5a5a5a"/><rect x="1125.1" y="1143.2" width="1.6" height="2.4" fill="#5a5a5a"/><rect x="1146.4" y="1156.5" width="1.6" height="3.4" fill="#8e8e8e"/><rect x="1149.6" y="1152.3" width="2.2" height="1.6" fill="#5a5a5a"/><rect x="1154.0" y="1178.6" width="3.0" height="1.6" fill="#505050"/><rect x="1136.4" y="1159.8" width="3.0" height="2.4" fill="#5a5a5a"/><rect x="1133.0" y="1185.2" width="1.6" height="1.6" fill="#9a9a9a"/><rect x="1138.5" y="1145.8" width="2.2" height="2.4" fill="#8e8e8e"/><rect x="1132.3" y="1143.6" width="3.0" height="3.4" fill="#8e8e8e"/><rect x="1123.9" y="1199.3" width="2.2" height="1.6" fill="#e0e0e0"/><rect x="1136.8" y="1187.1" width="1.6" height="3.4" fill="#303030"/><rect x="1148.9" y="1169.4" width="1.6" height="2.4" fill="#303030"/><rect x="1142.9" y="1170.1" width="1.6" height="1.6" fill="#9a9a9a"/><rect x="1164.9" y="1206.0" width="2.2" height="1.6" fill="#505050"/><rect x="1149.7" y="1185.6" width="1.6" height="2.4" fill="#e0e0e0"/><rect x="1149.9" y="1191.8" width="3.0" height="3.4" fill="#c8c8c8"/><rect x="1129.1" y="1162.4" width="3.0" height="2.4" fill="#767676"/><rect x="1123.8" y="1192.2" width="1.6" height="3.4" fill="#e0e0e0"/><rect x="1151.8" y="1191.6" width="3.0" height="3.4" fill="#303030"/><rect x="1141.4" y="1198.4" width="2.2" height="1.6" fill="#505050"/><rect x="1120.0" y="1196.7" width="1.6" height="2.4" fill="#e0e0e0"/><rect x="1138.6" y="1175.8" width="1.6" height="2.4" fill="#e0e0e0"/><rect x="1165.9" y="1176.0" width="3.0" height="1.6" fill="#e0e0e0"/><rect x="1125.4" y="1142.7" width="2.2" height="2.4" fill="#8e8e8e"/><rect x="1155.6" y="1153.8" width="2.2" height="1.6" fill="#5a5a5a"/><rect x="1165.5" y="1177.7" width="3.0" height="1.6" fill="#c8c8c8"/><rect x="1140.8" y="1196.1" width="3.0" height="1.6" fill="#e0e0e0"/><rect x="1126.0" y="1176.0" width="2.2" height="3.4" fill="#c8c8c8"/><rect x="1147.9" y="1197.0" width="2.2" height="1.6" fill="#e0e0e0"/><rect x="1130.0" y="1192.3" width="3.0" height="3.4" fill="#e0e0e0"/><rect x="1152.6" y="1147.5" width="2.2" height="1.6" fill="#8e8e8e"/><rect x="1142.3" y="1200.4" width="3.0" height="1.6" fill="#9a9a9a"/><rect x="1137.5" y="1157.5" width="2.2" height="3.4" fill="#767676"/><rect x="1124.5" y="1200.9" width="2.2" height="1.6" fill="#303030"/><rect x="1149.8" y="1198.6" width="3.0" height="3.4" fill="#c8c8c8"/><rect x="1162.6" y="1143.3" width="2.2" height="3.4" fill="#8e8e8e"/><rect x="1147.3" y="1151.9" width="2.2" height="2.4" fill="#8e8e8e"/><rect x="1137.3" y="1181.9" width="2.2" height="1.6" fill="#303030"/><rect x="1121.6" y="1195.0" width="1.6" height="3.4" fill="#e0e0e0"/><rect x="1137.1" y="1159.1" width="3.0" height="1.6" fill="#767676"/><rect x="1152.6" y="1138.8" width="2.2" height="1.6" fill="#f4f4f4"/><rect x="1143.6" y="1173.4" width="2.2" height="2.4" fill="#e0e0e0"/><rect x="1147.0" y="1143.8" width="1.6" height="2.4" fill="#8e8e8e"/><rect x="1164.3" y="1185.1" width="1.6" height="3.4" fill="#303030"/><rect x="1154.9" y="1140.4" width="2.2" height="1.6" fill="#e8e8e8"/><rect x="1143.4" y="1189.3" width="1.6" height="1.6" fill="#e0e0e0"/><rect x="1131.1" y="1155.4" width="3.0" height="2.4" fill="#5a5a5a"/><rect x="1138.1" y="1156.5" width="1.6" height="2.4" fill="#8e8e8e"/><rect x="1165.3" y="1194.7" width="1.6" height="2.4" fill="#303030"/><rect x="1126.3" y="1147.4" width="3.0" height="2.4" fill="#8e8e8e"/><rect x="1121.9" y="1190.0" width="2.2" height="3.4" fill="#e0e0e0"/><rect x="1123.2" y="1146.2" width="3.0" height="3.4" fill="#8e8e8e"/><rect x="1120.3" y="1201.9" width="3.0" height="3.4" fill="#c8c8c8"/><rect x="1119.6" y="1188.1" width="2.2" height="3.4" fill="#505050"/><rect x="1148.5" y="1200.5" width="1.6" height="1.6" fill="#e0e0e0"/><rect x="1139.9" y="1189.1" width="2.2" height="3.4" fill="#505050"/><rect x="1139.7" y="1144.8" width="3.0" height="3.4" fill="#8e8e8e"/><rect x="1122.6" y="1144.6" width="3.0" height="3.4" fill="#8e8e8e"/><rect x="1152.5" y="1185.7" width="2.2" height="3.4" fill="#505050"/><rect x="1163.8" y="1175.7" width="1.6" height="2.4" fill="#c8c8c8"/><rect x="1134.4" y="1146.3" width="1.6" height="2.4" fill="#8e8e8e"/><rect x="1141.4" y="1138.7" width="2.2" height="1.6" fill="#f4f4f4"/><rect x="1150.8" y="1201.5" width="2.2" height="3.4" fill="#505050"/><rect x="1156.6" y="1172.3" width="1.6" height="3.4" fill="#505050"/><rect x="1154.0" y="1148.2" width="1.6" height="1.6" fill="#8e8e8e"/><rect x="1135.5" y="1148.0" width="2.2" height="3.4" fill="#8e8e8e"/><rect x="1156.8" y="1184.4" width="3.0" height="3.4" fill="#505050"/><rect x="1158.6" y="1161.6" width="2.2" height="3.4" fill="#767676"/><rect x="1165.1" y="1159.5" width="1.6" height="3.4" fill="#5a5a5a"/><rect x="1131.5" y="1187.7" width="1.6" height="2.4" fill="#9a9a9a"/><rect x="1162.3" y="1192.7" width="2.2" height="1.6" fill="#303030"/><rect x="1152.8" y="1166.8" width="3.0" height="1.6" fill="#8e8e8e"/><rect x="1164.9" y="1200.2" width="2.2" height="2.4" fill="#505050"/><rect x="1124.8" y="1149.5" width="3.0" height="2.4" fill="#8e8e8e"/><rect x="1142.7" y="1147.0" width="3.0" height="1.6" fill="#8e8e8e"/><rect x="1145.1" y="1159.8" width="2.2" height="2.4" fill="#767676"/><rect x="1156.9" y="1143.3" width="1.6" height="1.6" fill="#767676"/><rect x="1159.5" y="1188.2" width="1.6" height="1.6" fill="#303030"/><rect x="1155.0" y="1177.3" width="3.0" height="2.4" fill="#303030"/><rect x="1136.3" y="1203.1" width="3.0" height="3.4" fill="#303030"/><rect x="1165.2" y="1144.2" width="1.6" height="1.6" fill="#8e8e8e"/><rect x="1144.4" y="1154.3" width="2.2" height="2.4" fill="#8e8e8e"/><rect x="1145.5" y="1154.9" width="2.2" height="1.6" fill="#8e8e8e"/><rect x="1132.6" y="1155.9" width="2.2" height="1.6" fill="#767676"/><rect x="1157.7" y="1174.6" width="3.0" height="1.6" fill="#c8c8c8"/><rect x="1144.7" y="1187.9" width="3.0" height="3.4" fill="#9a9a9a"/><rect x="1162.2" y="1190.8" width="2.2" height="1.6" fill="#303030"/><rect x="1139.2" y="1191.1" width="1.6" height="2.4" fill="#9a9a9a"/><rect x="1140.4" y="1162.4" width="3.0" height="3.4" fill="#767676"/><rect x="1131.9" y="1187.4" width="1.6" height="3.4" fill="#c8c8c8"/><rect x="1124.4" y="1202.4" width="2.2" height="1.6" fill="#e0e0e0"/><rect x="1124.1" y="1176.1" width="1.6" height="2.4" fill="#e0e0e0"/><rect x="1133.7" y="1197.6" width="3.0" height="3.4" fill="#e0e0e0"/><rect x="1122.5" y="1138.6" width="1.6" height="3.4" fill="#222"/><rect x="1164.8" y="1204.8" width="3.0" height="1.6" fill="#9a9a9a"/><rect x="1139.7" y="1184.1" width="3.0" height="3.4" fill="#e0e0e0"/><rect x="1135.8" y="1171.4" width="3.0" height="1.6" fill="#c8c8c8"/><rect x="1138.8" y="1170.5" width="3.0" height="2.4" fill="#e0e0e0"/>
</g></g>
<g filter="url(#soft)"><g transform="matrix(1 -0.0053 0.003 1 -3.6329 6.3608)">
<rect x="1171.00" y="1072.50" width="58.30" height="137.77" fill="url(#pG2)"/>
<rect x="1171.00" y="1072.50" width="4.6" height="137.77" fill="#0a0a0a"/>
<rect x="1225.90" y="1072.50" width="3.4" height="137.77" fill="#0a0a0a"/>
<rect x="1171.00" y="1072.50" width="58.30" height="5.0" fill="#1a1a1a"/>
</g></g>
<g filter="url(#soft)"><g transform="matrix(1 -0.0053 0.003 1 -3.6321 6.6605)">
<rect x="1230.70" y="1187.70" width="52.00" height="23.71" fill="#fdfdfd" stroke="#161616" stroke-width="2.8"/>
<rect x="1229.30" y="1186.30" width="54.80" height="4.2" fill="#1c1c1c"/>
</g></g>
<g filter="url(#soft)"><g transform="matrix(1 -0.0053 0.0045 1 -5.4457 7.3068)">
<clipPath id="c4"><rect x="1349.00" y="765.00" width="61.80" height="444.45"/></clipPath>
<rect x="1351.00" y="766.80" width="57.80" height="444.45" fill="#fdfdfd" stroke="#0a0a0a" stroke-width="4"/>
<g clip-path="url(#c4)" fill="#000"><ellipse cx="1345.0" cy="793.0" rx="7.2" ry="7.9"/><ellipse cx="1345.0" cy="828.4" rx="7.2" ry="7.9"/><ellipse cx="1345.0" cy="863.8" rx="7.2" ry="7.9"/><ellipse cx="1345.0" cy="899.2" rx="7.2" ry="7.9"/><ellipse cx="1345.0" cy="934.6" rx="7.2" ry="7.9"/><ellipse cx="1345.0" cy="970.0" rx="7.2" ry="7.9"/><ellipse cx="1345.0" cy="1005.4" rx="7.2" ry="7.9"/><ellipse cx="1345.0" cy="1040.8" rx="7.2" ry="7.9"/><ellipse cx="1345.0" cy="1076.2" rx="7.2" ry="7.9"/><ellipse cx="1345.0" cy="1111.6" rx="7.2" ry="7.9"/><ellipse cx="1345.0" cy="1147.0" rx="7.2" ry="7.9"/><ellipse cx="1345.0" cy="1182.4" rx="7.2" ry="7.9"/><ellipse cx="1377.6" cy="793.0" rx="7.2" ry="7.9"/><ellipse cx="1377.6" cy="828.4" rx="7.2" ry="7.9"/><ellipse cx="1377.6" cy="863.8" rx="7.2" ry="7.9"/><ellipse cx="1377.6" cy="899.2" rx="7.2" ry="7.9"/><ellipse cx="1377.6" cy="934.6" rx="7.2" ry="7.9"/><ellipse cx="1377.6" cy="970.0" rx="7.2" ry="7.9"/><ellipse cx="1377.6" cy="1005.4" rx="7.2" ry="7.9"/><ellipse cx="1377.6" cy="1040.8" rx="7.2" ry="7.9"/><ellipse cx="1377.6" cy="1076.2" rx="7.2" ry="7.9"/><ellipse cx="1377.6" cy="1111.6" rx="7.2" ry="7.9"/><ellipse cx="1377.6" cy="1147.0" rx="7.2" ry="7.9"/><ellipse cx="1377.6" cy="1182.4" rx="7.2" ry="7.9"/><ellipse cx="1410.2" cy="793.0" rx="7.2" ry="7.9"/><ellipse cx="1410.2" cy="828.4" rx="7.2" ry="7.9"/><ellipse cx="1410.2" cy="863.8" rx="7.2" ry="7.9"/><ellipse cx="1410.2" cy="899.2" rx="7.2" ry="7.9"/><ellipse cx="1410.2" cy="934.6" rx="7.2" ry="7.9"/><ellipse cx="1410.2" cy="970.0" rx="7.2" ry="7.9"/><ellipse cx="1410.2" cy="1005.4" rx="7.2" ry="7.9"/><ellipse cx="1410.2" cy="1040.8" rx="7.2" ry="7.9"/><ellipse cx="1410.2" cy="1076.2" rx="7.2" ry="7.9"/><ellipse cx="1410.2" cy="1111.6" rx="7.2" ry="7.9"/><ellipse cx="1410.2" cy="1147.0" rx="7.2" ry="7.9"/><ellipse cx="1410.2" cy="1182.4" rx="7.2" ry="7.9"/><ellipse cx="1361.2" cy="775.6" rx="7.2" ry="7.9"/><ellipse cx="1361.2" cy="811.0" rx="7.2" ry="7.9"/><ellipse cx="1361.2" cy="846.4" rx="7.2" ry="7.9"/><ellipse cx="1361.2" cy="881.8" rx="7.2" ry="7.9"/><ellipse cx="1361.2" cy="917.2" rx="7.2" ry="7.9"/><ellipse cx="1361.2" cy="952.6" rx="7.2" ry="7.9"/><ellipse cx="1361.2" cy="988.0" rx="7.2" ry="7.9"/><ellipse cx="1361.2" cy="1023.4" rx="7.2" ry="7.9"/><ellipse cx="1361.2" cy="1058.8" rx="7.2" ry="7.9"/><ellipse cx="1361.2" cy="1094.2" rx="7.2" ry="7.9"/><ellipse cx="1361.2" cy="1129.6" rx="7.2" ry="7.9"/><ellipse cx="1361.2" cy="1165.0" rx="7.2" ry="7.9"/><ellipse cx="1361.2" cy="1200.4" rx="7.2" ry="7.9"/><ellipse cx="1393.8" cy="775.6" rx="7.2" ry="7.9"/><ellipse cx="1393.8" cy="811.0" rx="7.2" ry="7.9"/><ellipse cx="1393.8" cy="846.4" rx="7.2" ry="7.9"/><ellipse cx="1393.8" cy="881.8" rx="7.2" ry="7.9"/><ellipse cx="1393.8" cy="917.2" rx="7.2" ry="7.9"/><ellipse cx="1393.8" cy="952.6" rx="7.2" ry="7.9"/><ellipse cx="1393.8" cy="988.0" rx="7.2" ry="7.9"/><ellipse cx="1393.8" cy="1023.4" rx="7.2" ry="7.9"/><ellipse cx="1393.8" cy="1058.8" rx="7.2" ry="7.9"/><ellipse cx="1393.8" cy="1094.2" rx="7.2" ry="7.9"/><ellipse cx="1393.8" cy="1129.6" rx="7.2" ry="7.9"/><ellipse cx="1393.8" cy="1165.0" rx="7.2" ry="7.9"/><ellipse cx="1393.8" cy="1200.4" rx="7.2" ry="7.9"/></g>
</g></g>
<g filter="url(#soft)"><g transform="matrix(1 -0.0053 0.003 1 -3.6297 7.6103)">
<rect x="1408.00" y="1098.00" width="55.80" height="111.19" fill="#000"/>
</g></g>
<g filter="url(#soft)"><g transform="matrix(1 -0.0053 0.003 1 -3.6289 7.9055)">
<rect x="1463.80" y="1093.00" width="55.60" height="115.94" fill="url(#pS)"/>
<rect x="1463.80" y="1093.00" width="55.60" height="4" fill="#0a0a0a"/>
<rect x="1464.10" y="1097.00" width="1.6" height="111.94" fill="#c8c8c8"/>
<rect x="1516.80" y="1093.00" width="2.8" height="115.94" fill="#0a0a0a"/>
<rect x="1468.2" y="1198.5" width="1.6" height="1.6" fill="#9a9a9a"/><rect x="1509.6" y="1125.4" width="3.0" height="2.4" fill="#767676"/><rect x="1511.5" y="1202.4" width="2.2" height="1.6" fill="#c8c8c8"/><rect x="1495.8" y="1183.1" width="3.0" height="3.4" fill="#9a9a9a"/><rect x="1481.9" y="1116.1" width="1.6" height="1.6" fill="#767676"/><rect x="1472.1" y="1190.9" width="2.2" height="1.6" fill="#e0e0e0"/><rect x="1473.9" y="1117.9" width="1.6" height="2.4" fill="#8e8e8e"/><rect x="1470.0" y="1182.9" width="1.6" height="2.4" fill="#505050"/><rect x="1483.5" y="1121.5" width="1.6" height="1.6" fill="#5a5a5a"/><rect x="1479.3" y="1160.6" width="3.0" height="2.4" fill="#9a9a9a"/><rect x="1491.6" y="1135.6" width="2.2" height="1.6" fill="#767676"/><rect x="1476.4" y="1120.6" width="2.2" height="1.6" fill="#5a5a5a"/><rect x="1504.1" y="1133.6" width="3.0" height="3.4" fill="#767676"/><rect x="1495.8" y="1161.7" width="2.2" height="3.4" fill="#9a9a9a"/><rect x="1508.5" y="1117.7" width="1.6" height="2.4" fill="#767676"/><rect x="1491.1" y="1177.1" width="3.0" height="1.6" fill="#c8c8c8"/><rect x="1504.4" y="1155.8" width="3.0" height="3.4" fill="#e0e0e0"/><rect x="1478.4" y="1121.3" width="3.0" height="1.6" fill="#5a5a5a"/><rect x="1484.4" y="1136.1" width="2.2" height="1.6" fill="#8e8e8e"/><rect x="1486.7" y="1169.7" width="2.2" height="1.6" fill="#c8c8c8"/><rect x="1484.9" y="1128.7" width="2.2" height="1.6" fill="#8e8e8e"/><rect x="1469.3" y="1101.5" width="2.2" height="1.6" fill="#e8e8e8"/><rect x="1473.6" y="1120.0" width="1.6" height="2.4" fill="#5a5a5a"/><rect x="1483.1" y="1197.5" width="3.0" height="2.4" fill="#c8c8c8"/><rect x="1511.8" y="1118.6" width="3.0" height="3.4" fill="#767676"/><rect x="1478.1" y="1188.8" width="2.2" height="2.4" fill="#505050"/><rect x="1501.4" y="1196.8" width="1.6" height="1.6" fill="#c8c8c8"/><rect x="1501.3" y="1170.3" width="2.2" height="2.4" fill="#e0e0e0"/><rect x="1475.5" y="1111.1" width="3.0" height="2.4" fill="#5a5a5a"/><rect x="1511.9" y="1106.7" width="1.6" height="1.6" fill="#e8e8e8"/><rect x="1510.7" y="1202.3" width="1.6" height="1.6" fill="#9a9a9a"/><rect x="1512.7" y="1166.2" width="2.2" height="2.4" fill="#e0e0e0"/><rect x="1504.5" y="1202.0" width="2.2" height="3.4" fill="#505050"/><rect x="1514.3" y="1150.2" width="1.6" height="1.6" fill="#e0e0e0"/><rect x="1511.7" y="1202.6" width="2.2" height="3.4" fill="#e0e0e0"/><rect x="1485.9" y="1103.5" width="1.6" height="1.6" fill="#e8e8e8"/><rect x="1485.9" y="1186.0" width="1.6" height="1.6" fill="#e0e0e0"/><rect x="1487.0" y="1200.8" width="3.0" height="1.6" fill="#9a9a9a"/><rect x="1488.9" y="1117.5" width="1.6" height="2.4" fill="#8e8e8e"/><rect x="1513.1" y="1134.0" width="3.0" height="2.4" fill="#8e8e8e"/><rect x="1478.7" y="1177.4" width="2.2" height="1.6" fill="#c8c8c8"/><rect x="1508.9" y="1160.1" width="2.2" height="3.4" fill="#505050"/><rect x="1494.7" y="1125.4" width="1.6" height="3.4" fill="#5a5a5a"/><rect x="1511.3" y="1189.2" width="2.2" height="3.4" fill="#c8c8c8"/><rect x="1493.5" y="1196.3" width="3.0" height="2.4" fill="#c8c8c8"/><rect x="1478.0" y="1160.4" width="3.0" height="2.4" fill="#c8c8c8"/><rect x="1480.3" y="1108.4" width="2.2" height="2.4" fill="#8e8e8e"/><rect x="1493.4" y="1151.2" width="3.0" height="2.4" fill="#9a9a9a"/><rect x="1499.4" y="1168.9" width="2.2" height="2.4" fill="#505050"/><rect x="1494.1" y="1165.6" width="1.6" height="1.6" fill="#505050"/><rect x="1482.0" y="1166.4" width="3.0" height="1.6" fill="#e0e0e0"/><rect x="1513.0" y="1128.0" width="1.6" height="1.6" fill="#5a5a5a"/><rect x="1480.1" y="1103.4" width="2.2" height="1.6" fill="#222"/><rect x="1478.9" y="1194.5" width="1.6" height="2.4" fill="#9a9a9a"/><rect x="1483.6" y="1104.2" width="2.2" height="2.4" fill="#e8e8e8"/><rect x="1474.0" y="1131.8" width="1.6" height="3.4" fill="#8e8e8e"/><rect x="1477.0" y="1187.2" width="3.0" height="1.6" fill="#303030"/><rect x="1499.4" y="1183.3" width="2.2" height="1.6" fill="#303030"/><rect x="1472.4" y="1148.9" width="1.6" height="1.6" fill="#c8c8c8"/><rect x="1512.3" y="1168.4" width="3.0" height="3.4" fill="#505050"/><rect x="1498.9" y="1140.8" width="3.0" height="1.6" fill="#8e8e8e"/><rect x="1472.0" y="1203.0" width="2.2" height="2.4" fill="#505050"/><rect x="1475.6" y="1172.2" width="3.0" height="3.4" fill="#303030"/><rect x="1497.7" y="1178.1" width="2.2" height="2.4" fill="#e0e0e0"/><rect x="1503.4" y="1182.0" width="3.0" height="2.4" fill="#e0e0e0"/><rect x="1511.7" y="1166.3" width="1.6" height="2.4" fill="#505050"/><rect x="1500.6" y="1102.2" width="2.2" height="1.6" fill="#e8e8e8"/><rect x="1477.8" y="1164.1" width="3.0" height="1.6" fill="#e0e0e0"/><rect x="1491.4" y="1131.8" width="3.0" height="1.6" fill="#8e8e8e"/><rect x="1468.1" y="1126.5" width="2.2" height="2.4" fill="#8e8e8e"/><rect x="1510.9" y="1195.5" width="3.0" height="3.4" fill="#303030"/><rect x="1496.3" y="1200.9" width="2.2" height="1.6" fill="#e0e0e0"/><rect x="1480.1" y="1153.9" width="1.6" height="1.6" fill="#505050"/><rect x="1471.4" y="1173.4" width="2.2" height="3.4" fill="#e0e0e0"/><rect x="1491.8" y="1128.8" width="1.6" height="2.4" fill="#8e8e8e"/><rect x="1482.4" y="1105.5" width="2.2" height="2.4" fill="#e8e8e8"/><rect x="1491.9" y="1199.5" width="2.2" height="1.6" fill="#9a9a9a"/><rect x="1486.2" y="1123.2" width="1.6" height="1.6" fill="#5a5a5a"/><rect x="1487.2" y="1148.9" width="3.0" height="3.4" fill="#505050"/><rect x="1505.3" y="1196.9" width="2.2" height="3.4" fill="#9a9a9a"/><rect x="1492.6" y="1204.7" width="1.6" height="1.6" fill="#9a9a9a"/><rect x="1475.5" y="1203.5" width="1.6" height="1.6" fill="#9a9a9a"/><rect x="1493.0" y="1127.1" width="2.2" height="3.4" fill="#8e8e8e"/><rect x="1468.8" y="1104.2" width="2.2" height="1.6" fill="#e8e8e8"/><rect x="1512.1" y="1118.7" width="1.6" height="3.4" fill="#8e8e8e"/><rect x="1470.2" y="1126.8" width="1.6" height="2.4" fill="#5a5a5a"/><rect x="1490.5" y="1181.9" width="2.2" height="3.4" fill="#c8c8c8"/><rect x="1478.2" y="1190.3" width="1.6" height="1.6" fill="#505050"/><rect x="1500.6" y="1111.7" width="3.0" height="2.4" fill="#8e8e8e"/><rect x="1486.0" y="1139.0" width="3.0" height="2.4" fill="#5a5a5a"/><rect x="1496.3" y="1120.2" width="3.0" height="2.4" fill="#767676"/><rect x="1513.8" y="1191.4" width="2.2" height="2.4" fill="#e0e0e0"/><rect x="1467.8" y="1187.3" width="3.0" height="2.4" fill="#9a9a9a"/><rect x="1502.0" y="1191.0" width="2.2" height="1.6" fill="#c8c8c8"/><rect x="1504.5" y="1173.7" width="1.6" height="2.4" fill="#505050"/><rect x="1498.3" y="1119.9" width="2.2" height="1.6" fill="#5a5a5a"/><rect x="1496.5" y="1142.0" width="3.0" height="1.6" fill="#8e8e8e"/><rect x="1488.5" y="1148.6" width="2.2" height="3.4" fill="#9a9a9a"/><rect x="1484.7" y="1194.0" width="3.0" height="1.6" fill="#505050"/><rect x="1502.1" y="1129.7" width="2.2" height="1.6" fill="#5a5a5a"/><rect x="1497.9" y="1122.2" width="3.0" height="3.4" fill="#8e8e8e"/><rect x="1513.4" y="1134.5" width="1.6" height="2.4" fill="#5a5a5a"/><rect x="1483.2" y="1143.6" width="3.0" height="2.4" fill="#8e8e8e"/><rect x="1477.3" y="1140.6" width="3.0" height="2.4" fill="#767676"/><rect x="1469.6" y="1160.3" width="3.0" height="2.4" fill="#c8c8c8"/><rect x="1470.0" y="1202.6" width="3.0" height="2.4" fill="#303030"/><rect x="1494.4" y="1124.9" width="3.0" height="1.6" fill="#5a5a5a"/><rect x="1513.8" y="1112.6" width="3.0" height="3.4" fill="#8e8e8e"/><rect x="1512.0" y="1127.3" width="3.0" height="2.4" fill="#8e8e8e"/><rect x="1482.4" y="1196.6" width="3.0" height="2.4" fill="#505050"/><rect x="1480.6" y="1184.2" width="3.0" height="1.6" fill="#505050"/><rect x="1471.5" y="1103.2" width="3.0" height="3.4" fill="#f4f4f4"/><rect x="1514.0" y="1158.9" width="2.2" height="2.4" fill="#303030"/><rect x="1502.9" y="1106.1" width="3.0" height="3.4" fill="#f4f4f4"/><rect x="1474.8" y="1136.9" width="2.2" height="3.4" fill="#767676"/><rect x="1479.8" y="1136.3" width="3.0" height="2.4" fill="#8e8e8e"/><rect x="1485.7" y="1141.3" width="3.0" height="3.4" fill="#8e8e8e"/><rect x="1478.7" y="1117.0" width="1.6" height="3.4" fill="#8e8e8e"/><rect x="1504.6" y="1177.0" width="1.6" height="2.4" fill="#303030"/><rect x="1469.5" y="1160.3" width="2.2" height="1.6" fill="#303030"/><rect x="1496.5" y="1136.7" width="2.2" height="1.6" fill="#8e8e8e"/><rect x="1507.1" y="1173.0" width="2.2" height="3.4" fill="#e0e0e0"/><rect x="1480.2" y="1152.0" width="1.6" height="3.4" fill="#303030"/><rect x="1477.4" y="1164.3" width="3.0" height="2.4" fill="#c8c8c8"/><rect x="1504.3" y="1192.8" width="1.6" height="3.4" fill="#c8c8c8"/><rect x="1499.0" y="1116.3" width="3.0" height="3.4" fill="#8e8e8e"/><rect x="1483.4" y="1180.3" width="1.6" height="2.4" fill="#303030"/><rect x="1484.1" y="1122.5" width="3.0" height="3.4" fill="#8e8e8e"/><rect x="1469.8" y="1187.9" width="3.0" height="1.6" fill="#9a9a9a"/><rect x="1471.3" y="1102.7" width="2.2" height="3.4" fill="#f4f4f4"/><rect x="1492.2" y="1139.3" width="2.2" height="1.6" fill="#8e8e8e"/><rect x="1510.1" y="1163.7" width="2.2" height="1.6" fill="#9a9a9a"/><rect x="1498.6" y="1172.4" width="1.6" height="2.4" fill="#303030"/><rect x="1503.9" y="1121.6" width="2.2" height="1.6" fill="#8e8e8e"/><rect x="1483.9" y="1124.6" width="2.2" height="2.4" fill="#8e8e8e"/><rect x="1467.5" y="1137.0" width="3.0" height="1.6" fill="#5a5a5a"/><rect x="1479.6" y="1110.1" width="2.2" height="3.4" fill="#8e8e8e"/><rect x="1491.2" y="1131.4" width="3.0" height="3.4" fill="#5a5a5a"/><rect x="1490.6" y="1142.2" width="2.2" height="3.4" fill="#5a5a5a"/><rect x="1479.4" y="1145.5" width="3.0" height="1.6" fill="#9a9a9a"/><rect x="1480.4" y="1129.7" width="1.6" height="3.4" fill="#5a5a5a"/><rect x="1504.7" y="1164.3" width="3.0" height="1.6" fill="#303030"/><rect x="1484.3" y="1196.7" width="3.0" height="2.4" fill="#9a9a9a"/><rect x="1499.7" y="1177.6" width="1.6" height="2.4" fill="#505050"/><rect x="1490.7" y="1122.2" width="1.6" height="1.6" fill="#767676"/><rect x="1478.6" y="1201.8" width="2.2" height="3.4" fill="#9a9a9a"/><rect x="1493.3" y="1102.2" width="3.0" height="2.4" fill="#f4f4f4"/><rect x="1513.9" y="1106.1" width="1.6" height="1.6" fill="#e8e8e8"/><rect x="1504.8" y="1174.4" width="2.2" height="3.4" fill="#e0e0e0"/><rect x="1513.9" y="1193.8" width="3.0" height="3.4" fill="#9a9a9a"/><rect x="1469.5" y="1173.9" width="2.2" height="3.4" fill="#e0e0e0"/><rect x="1509.7" y="1170.1" width="2.2" height="3.4" fill="#c8c8c8"/><rect x="1492.7" y="1134.0" width="1.6" height="1.6" fill="#8e8e8e"/><rect x="1501.1" y="1196.9" width="1.6" height="1.6" fill="#9a9a9a"/><rect x="1503.1" y="1133.7" width="3.0" height="1.6" fill="#8e8e8e"/><rect x="1479.3" y="1185.1" width="1.6" height="1.6" fill="#c8c8c8"/><rect x="1483.2" y="1175.7" width="1.6" height="3.4" fill="#c8c8c8"/><rect x="1468.2" y="1115.5" width="3.0" height="2.4" fill="#5a5a5a"/><rect x="1505.1" y="1194.4" width="2.2" height="3.4" fill="#c8c8c8"/><rect x="1472.3" y="1098.7" width="1.6" height="3.4" fill="#222"/><rect x="1481.3" y="1192.0" width="2.2" height="3.4" fill="#303030"/><rect x="1497.6" y="1142.4" width="1.6" height="3.4" fill="#8e8e8e"/><rect x="1480.1" y="1196.1" width="1.6" height="2.4" fill="#e0e0e0"/><rect x="1475.7" y="1123.4" width="3.0" height="3.4" fill="#8e8e8e"/><rect x="1472.5" y="1165.8" width="3.0" height="2.4" fill="#505050"/><rect x="1490.3" y="1104.3" width="3.0" height="2.4" fill="#f4f4f4"/><rect x="1472.6" y="1125.1" width="1.6" height="2.4" fill="#8e8e8e"/><rect x="1513.6" y="1137.7" width="2.2" height="1.6" fill="#8e8e8e"/><rect x="1511.7" y="1166.8" width="1.6" height="1.6" fill="#9a9a9a"/>
</g></g>
<g filter="url(#soft)"><g transform="matrix(1 -0.0053 0.003 1 -3.6282 8.1991)">
<rect x="1519.40" y="1025.20" width="55.20" height="183.50" fill="url(#pG2)"/>
<rect x="1519.40" y="1025.20" width="3.2" height="183.50" fill="#0a0a0a"/>
<rect x="1571.20" y="1025.20" width="3.4" height="183.50" fill="#0a0a0a"/>
<rect x="1519.40" y="1025.20" width="55.20" height="5.0" fill="#1a1a1a"/>
</g></g>
<g filter="url(#soft)"><g transform="matrix(1 -0.0053 0.003 1 -3.6275 8.4943)">
<rect x="1575.40" y="995.50" width="54.60" height="214.36" fill="#fdfdfd" stroke="#161616" stroke-width="2.8"/>
<rect x="1574.00" y="994.10" width="57.40" height="4.2" fill="#1c1c1c"/>
</g></g>
<g filter="url(#soft)"><g transform="matrix(1 -0.0053 0.005 1 -6.0431 9.1780)">
<clipPath id="c5"><rect x="1702.40" y="571.60" width="58.60" height="636.32"/></clipPath>
<rect x="1704.40" y="573.40" width="54.60" height="636.32" fill="#fdfdfd" stroke="#0a0a0a" stroke-width="4"/>
<g clip-path="url(#c5)" fill="#000"><ellipse cx="1708.8" cy="581.4" rx="7.2" ry="7.9"/><ellipse cx="1708.8" cy="616.6" rx="7.2" ry="7.9"/><ellipse cx="1708.8" cy="651.8" rx="7.2" ry="7.9"/><ellipse cx="1708.8" cy="687.1" rx="7.2" ry="7.9"/><ellipse cx="1708.8" cy="722.3" rx="7.2" ry="7.9"/><ellipse cx="1708.8" cy="757.6" rx="7.2" ry="7.9"/><ellipse cx="1708.8" cy="792.8" rx="7.2" ry="7.9"/><ellipse cx="1708.8" cy="828.0" rx="7.2" ry="7.9"/><ellipse cx="1708.8" cy="863.3" rx="7.2" ry="7.9"/><ellipse cx="1708.8" cy="898.5" rx="7.2" ry="7.9"/><ellipse cx="1708.8" cy="933.8" rx="7.2" ry="7.9"/><ellipse cx="1708.8" cy="969.0" rx="7.2" ry="7.9"/><ellipse cx="1708.8" cy="1004.2" rx="7.2" ry="7.9"/><ellipse cx="1708.8" cy="1039.5" rx="7.2" ry="7.9"/><ellipse cx="1708.8" cy="1074.7" rx="7.2" ry="7.9"/><ellipse cx="1708.8" cy="1110.0" rx="7.2" ry="7.9"/><ellipse cx="1708.8" cy="1145.2" rx="7.2" ry="7.9"/><ellipse cx="1708.8" cy="1180.4" rx="7.2" ry="7.9"/><ellipse cx="1741.4" cy="581.4" rx="7.2" ry="7.9"/><ellipse cx="1741.4" cy="616.6" rx="7.2" ry="7.9"/><ellipse cx="1741.4" cy="651.8" rx="7.2" ry="7.9"/><ellipse cx="1741.4" cy="687.1" rx="7.2" ry="7.9"/><ellipse cx="1741.4" cy="722.3" rx="7.2" ry="7.9"/><ellipse cx="1741.4" cy="757.6" rx="7.2" ry="7.9"/><ellipse cx="1741.4" cy="792.8" rx="7.2" ry="7.9"/><ellipse cx="1741.4" cy="828.0" rx="7.2" ry="7.9"/><ellipse cx="1741.4" cy="863.3" rx="7.2" ry="7.9"/><ellipse cx="1741.4" cy="898.5" rx="7.2" ry="7.9"/><ellipse cx="1741.4" cy="933.8" rx="7.2" ry="7.9"/><ellipse cx="1741.4" cy="969.0" rx="7.2" ry="7.9"/><ellipse cx="1741.4" cy="1004.2" rx="7.2" ry="7.9"/><ellipse cx="1741.4" cy="1039.5" rx="7.2" ry="7.9"/><ellipse cx="1741.4" cy="1074.7" rx="7.2" ry="7.9"/><ellipse cx="1741.4" cy="1110.0" rx="7.2" ry="7.9"/><ellipse cx="1741.4" cy="1145.2" rx="7.2" ry="7.9"/><ellipse cx="1741.4" cy="1180.4" rx="7.2" ry="7.9"/><ellipse cx="1724.6" cy="599.1" rx="7.2" ry="7.9"/><ellipse cx="1724.6" cy="634.4" rx="7.2" ry="7.9"/><ellipse cx="1724.6" cy="669.6" rx="7.2" ry="7.9"/><ellipse cx="1724.6" cy="704.9" rx="7.2" ry="7.9"/><ellipse cx="1724.6" cy="740.1" rx="7.2" ry="7.9"/><ellipse cx="1724.6" cy="775.3" rx="7.2" ry="7.9"/><ellipse cx="1724.6" cy="810.6" rx="7.2" ry="7.9"/><ellipse cx="1724.6" cy="845.8" rx="7.2" ry="7.9"/><ellipse cx="1724.6" cy="881.1" rx="7.2" ry="7.9"/><ellipse cx="1724.6" cy="916.3" rx="7.2" ry="7.9"/><ellipse cx="1724.6" cy="951.5" rx="7.2" ry="7.9"/><ellipse cx="1724.6" cy="986.8" rx="7.2" ry="7.9"/><ellipse cx="1724.6" cy="1022.0" rx="7.2" ry="7.9"/><ellipse cx="1724.6" cy="1057.3" rx="7.2" ry="7.9"/><ellipse cx="1724.6" cy="1092.5" rx="7.2" ry="7.9"/><ellipse cx="1724.6" cy="1127.7" rx="7.2" ry="7.9"/><ellipse cx="1724.6" cy="1163.0" rx="7.2" ry="7.9"/><ellipse cx="1724.6" cy="1198.2" rx="7.2" ry="7.9"/><ellipse cx="1757.2" cy="599.1" rx="7.2" ry="7.9"/><ellipse cx="1757.2" cy="634.4" rx="7.2" ry="7.9"/><ellipse cx="1757.2" cy="669.6" rx="7.2" ry="7.9"/><ellipse cx="1757.2" cy="704.9" rx="7.2" ry="7.9"/><ellipse cx="1757.2" cy="740.1" rx="7.2" ry="7.9"/><ellipse cx="1757.2" cy="775.3" rx="7.2" ry="7.9"/><ellipse cx="1757.2" cy="810.6" rx="7.2" ry="7.9"/><ellipse cx="1757.2" cy="845.8" rx="7.2" ry="7.9"/><ellipse cx="1757.2" cy="881.1" rx="7.2" ry="7.9"/><ellipse cx="1757.2" cy="916.3" rx="7.2" ry="7.9"/><ellipse cx="1757.2" cy="951.5" rx="7.2" ry="7.9"/><ellipse cx="1757.2" cy="986.8" rx="7.2" ry="7.9"/><ellipse cx="1757.2" cy="1022.0" rx="7.2" ry="7.9"/><ellipse cx="1757.2" cy="1057.3" rx="7.2" ry="7.9"/><ellipse cx="1757.2" cy="1092.5" rx="7.2" ry="7.9"/><ellipse cx="1757.2" cy="1127.7" rx="7.2" ry="7.9"/><ellipse cx="1757.2" cy="1163.0" rx="7.2" ry="7.9"/><ellipse cx="1757.2" cy="1198.2" rx="7.2" ry="7.9"/></g>
</g></g>
<g filter="url(#soft)"><g transform="matrix(1 -0.0053 0.0 1 -0.0000 9.4632)">
<rect x="1761.00" y="1202.00" width="49.00" height="5.69" fill="#000"/>
</g></g>
<g filter="url(#soft)"><g transform="matrix(1 -0.0053 0.0 1 -0.0000 9.7308)">
<rect x="1810.00" y="1200.40" width="52.00" height="7.07" fill="url(#pS)"/>
<rect x="1810.00" y="1200.40" width="52.00" height="2.5" fill="#0a0a0a"/>
<rect x="1810.30" y="1204.40" width="1.6" height="3.07" fill="#c8c8c8"/>
<rect x="1859.40" y="1200.40" width="2.8" height="7.07" fill="#0a0a0a"/>
<rect x="1835.0" y="1205.9" width="3.0" height="1.6" fill="#9a9a9a"/><rect x="1832.7" y="1205.9" width="1.6" height="3.4" fill="#e0e0e0"/><rect x="1851.0" y="1205.4" width="2.2" height="2.4" fill="#c8c8c8"/><rect x="1822.9" y="1205.8" width="3.0" height="1.6" fill="#505050"/><rect x="1846.5" y="1206.1" width="2.2" height="1.6" fill="#e0e0e0"/><rect x="1819.5" y="1205.6" width="1.6" height="1.6" fill="#e0e0e0"/><rect x="1851.6" y="1205.8" width="3.0" height="1.6" fill="#e0e0e0"/><rect x="1819.1" y="1205.7" width="3.0" height="1.6" fill="#e0e0e0"/><rect x="1823.1" y="1205.6" width="1.6" height="2.4" fill="#505050"/>
</g></g>
<g filter="url(#soft)"><g transform="matrix(1 -0.0053 0.002 1 -2.4159 10.0239)">
<rect x="1862.00" y="846.80" width="58.60" height="360.44" fill="url(#pG2d)"/>
<rect x="1862.00" y="846.80" width="3.2" height="360.44" fill="#0a0a0a"/>
<rect x="1917.20" y="846.80" width="3.4" height="360.44" fill="#0a0a0a"/>
<rect x="1862.00" y="846.80" width="58.60" height="5.0" fill="#1a1a1a"/>
</g></g>
<g filter="url(#soft)"><g transform="matrix(1 -0.0053 0.002 1 -2.4153 10.3265)">
<rect x="1922.40" y="1138.70" width="52.00" height="69.66" fill="#fdfdfd" stroke="#161616" stroke-width="2.8"/>
<rect x="1921.00" y="1137.30" width="54.80" height="4.2" fill="#1c1c1c"/>
</g></g>
<g filter="url(#soft)">
<polygon points="251.0,1213.90 300.0,1213.50 620.0,1211.20 800.0,1210.40 1150.0,1208.30 1500.0,1206.70 1900.0,1205.00 2021.5,1204.40 2021.5,1210.20 1900.0,1210.80 1500.0,1212.50 1150.0,1214.10 800.0,1216.20 620.0,1217.00 300.0,1219.30 251.0,1219.70" fill="#000"/>
<rect x="616.60" y="1214.10" width="5.6" height="26.90" fill="#000"/>
<rect x="966.20" y="1212.29" width="5.6" height="27.21" fill="#000"/>
<rect x="1313.70" y="1210.44" width="5.6" height="26.56" fill="#000"/>
<rect x="1661.20" y="1208.90" width="5.6" height="26.10" fill="#000"/>
<rect x="2007.90" y="1207.35" width="5.6" height="25.45" fill="#000"/>
</g>
<g filter="url(#soft)">
<path d="M267.0 203.7L272.2 203.7L275.0 1260.2L269.2 1260.2Z" fill="#000"/>
<rect x="248.60" y="223.10" width="23.40" height="6.2" fill="#000"/>
<rect x="248.80" y="336.40" width="23.20" height="6.2" fill="#000"/>
<rect x="249.00" y="439.60" width="23.00" height="6.2" fill="#000"/>
<rect x="249.20" y="554.30" width="22.80" height="6.2" fill="#000"/>
<rect x="249.40" y="667.50" width="22.60" height="6.2" fill="#000"/>
<rect x="249.60" y="767.40" width="22.40" height="6.2" fill="#000"/>
<rect x="251.20" y="881.70" width="20.80" height="5.0" fill="#000"/>
<rect x="251.20" y="997.80" width="20.80" height="5.0" fill="#000"/>
<rect x="251.20" y="1110.20" width="20.80" height="5.0" fill="#000"/>
</g>
<g filter="url(#soft)">
<clipPath id="lc1"><rect x="1159.6" y="103.2" width="59.3" height="41.6"/></clipPath>
<rect x="1161.4" y="105.0" width="55.7" height="38.0" fill="#fdfdfd" stroke="#0a0a0a" stroke-width="3.6"/>
<g clip-path="url(#lc1)" fill="#000"><circle cx="1177.4" cy="125.7" r="6.4"/><circle cx="1209" cy="125.7" r="6.4"/><circle cx="1192.6" cy="109.5" r="6.4"/><circle cx="1192.6" cy="142.5" r="6.4"/></g>
<rect x="1162.4" y="208.8" width="54" height="35.7" fill="#000"/>
<rect x="1161.9" y="313.9" width="53.9" height="31.9" fill="url(#pS)" stroke="#0a0a0a" stroke-width="4.6"/>
<rect x="1161.2" y="419.6" width="55.3" height="32.5" fill="url(#pG2)" stroke="#0a0a0a" stroke-width="3.2"/>
<rect x="1161.2" y="447.5" width="55.3" height="4.5" fill="#1a1a1a"/>
<rect x="1161.8" y="523.3" width="56.1" height="35.1" fill="#fdfdfd" stroke="#161616" stroke-width="2.8"/>
</g>
<g font-family="'Liberation Sans', Arial, sans-serif" font-size="100" fill="#000" stroke="#000" stroke-width="0.7" stroke-linejoin="round">
<g filter="url(#soft)"><g transform="matrix(0.7600 0 0 0.9011 0 372.20)" stroke-width="1.2"><text x="178.8 235.4" y="0">80</text></g></g>
<g filter="url(#soft)"><g transform="matrix(0.7600 0 0 0.8955 0 594.50)" stroke-width="1.2"><text x="178.9 235.9" y="0">60</text></g></g>
<g filter="url(#soft)"><g transform="matrix(0.7600 0 0 0.9025 0 815.00)" stroke-width="1.2"><text x="178.6 237.8" y="0">40</text></g></g>
<g filter="url(#soft)"><g transform="matrix(0.7600 0 0 0.8842 0 1035.92)" stroke-width="1.2"><text x="180.1 239.2" y="0">20</text></g></g>
<g filter="url(#soft)"><g transform="matrix(0.7500 0 0 0.8856 0 1254.51)" stroke-width="1.2"><text x="242.6" y="0">0</text></g></g>
<g filter="url(#soft)"><g transform="matrix(0.8000 0 0 0.9040 0 1326.90)" stroke-width="1.8"><text x="454.5 528.1 583.2 641.1" y="0">Cont</text></g></g>
<g filter="url(#soft)"><g transform="matrix(0.8000 0 0 0.8842 0 1324.82)" stroke-width="1.8"><text x="863.9 917.8 971.3 1028.8" y="0">10nM</text><rect x="868.1" y="-10.5" width="20.4" height="15.5" fill="#fdfdfd" stroke="none"/><rect x="898.4" y="-10.5" width="19.5" height="15.5" fill="#fdfdfd" stroke="none"/></g></g>
<g filter="url(#soft)"><g transform="matrix(0.8000 0 0 0.8842 0 1323.52)" stroke-width="1.8"><text x="1278.9 1331.8 1387.3 1443.2 1498.3" y="0">100nM</text><rect x="1283.1" y="-10.5" width="20.4" height="15.5" fill="#fdfdfd" stroke="none"/><rect x="1313.4" y="-10.5" width="19.5" height="15.5" fill="#fdfdfd" stroke="none"/></g></g>
<g filter="url(#soft)"><g transform="matrix(0.8000 0 0 0.9040 0 1322.20)" stroke-width="1.8"><text x="1721.7 1776.3 1833.1 1887.8 1943.6" y="0">500nM</text></g></g>
<g filter="url(#soft)"><g transform="matrix(0.8000 0 0 0.9069 0 1320.19)" stroke-width="1.8"><text x="2197.5 2250.2 2306.0" y="0">1uM</text><rect x="2201.7" y="-10.5" width="20.4" height="15.5" fill="#fdfdfd" stroke="none"/><rect x="2232.0" y="-10.5" width="19.5" height="15.5" fill="#fdfdfd" stroke="none"/></g></g>
<g filter="url(#soft)"><g transform="matrix(0.7750 0 0 0.8602 0 159.54)" stroke-width="1.2"><text x="1595.3 1665.2 1721.9 1779.6 1862.8" y="0">SubG1</text><rect x="1867.0" y="-10.5" width="20.4" height="15.5" fill="#fdfdfd" stroke="none"/><rect x="1897.3" y="-10.5" width="19.5" height="15.5" fill="#fdfdfd" stroke="none"/></g></g>
<g filter="url(#soft)"><g transform="matrix(0.8000 0 0 0.8729 0 261.63)" stroke-width="1.2"><text x="1546.4 1626.2" y="0">G1</text><rect x="1630.4" y="-10.5" width="20.4" height="15.5" fill="#fdfdfd" stroke="none"/><rect x="1660.7" y="-10.5" width="19.5" height="15.5" fill="#fdfdfd" stroke="none"/></g></g>
<g filter="url(#soft)"><g transform="matrix(0.8000 0 0 0.8927 0 366.91)" stroke-width="1.2"><text x="1545.9" y="0">S</text></g></g>
<g filter="url(#soft)"><g transform="matrix(0.7900 0 0 0.8715 0 470.03)" stroke-width="1.2"><text x="1565.8 1642.4 1701.6 1729.6" y="0">G2/M</text></g></g>
<g filter="url(#soft)"><g transform="matrix(0.7650 0 0 0.9055 0 579.40)" stroke-width="0.9"><text x="1618.7 1688.0 1746.0 1802.5 1860.6 1918.7 1940.4 2002.6 2025.4 2081.7" y="0">Aneoploidy</text></g></g>
</g>
<g fill="#444"><circle cx="142" cy="52" r="1.2" opacity="0.5"/><circle cx="692" cy="65" r="1.0" opacity="0.35"/><circle cx="680" cy="80" r="1.0" opacity="0.3"/><circle cx="680" cy="105" r="1.0" opacity="0.35"/><circle cx="547" cy="180" r="0.9" opacity="0.3"/><circle cx="582" cy="182" r="0.9" opacity="0.3"/><circle cx="197" cy="242" r="0.9" opacity="0.2"/><circle cx="678" cy="289" r="1.0" opacity="0.35"/><circle cx="972" cy="590" r="1.0" opacity="0.3"/><circle cx="840" cy="652" r="0.9" opacity="0.3"/><circle cx="995" cy="677" r="0.9" opacity="0.25"/><circle cx="315" cy="395" r="0.9" opacity="0.2"/><circle cx="1155" cy="65" r="1.0" opacity="0.35"/><circle cx="1100" cy="100" r="0.9" opacity="0.3"/><circle cx="1985" cy="92" r="1.0" opacity="0.35"/><circle cx="2072" cy="85" r="1.0" opacity="0.35"/><circle cx="1855" cy="92" r="0.9" opacity="0.25"/><circle cx="1820" cy="150" r="0.9" opacity="0.25"/><circle cx="1780" cy="420" r="0.9" opacity="0.3"/><circle cx="1350" cy="477" r="0.9" opacity="0.25"/><circle cx="1384" cy="1386" r="1.0" opacity="0.4"/><circle cx="1756" cy="1387" r="1.0" opacity="0.4"/><circle cx="170" cy="1375" r="0.9" opacity="0.3"/><path d="M775 424l3-6" stroke="#333" stroke-width="2" opacity=".8"/></g>
</svg>
</body></html>
